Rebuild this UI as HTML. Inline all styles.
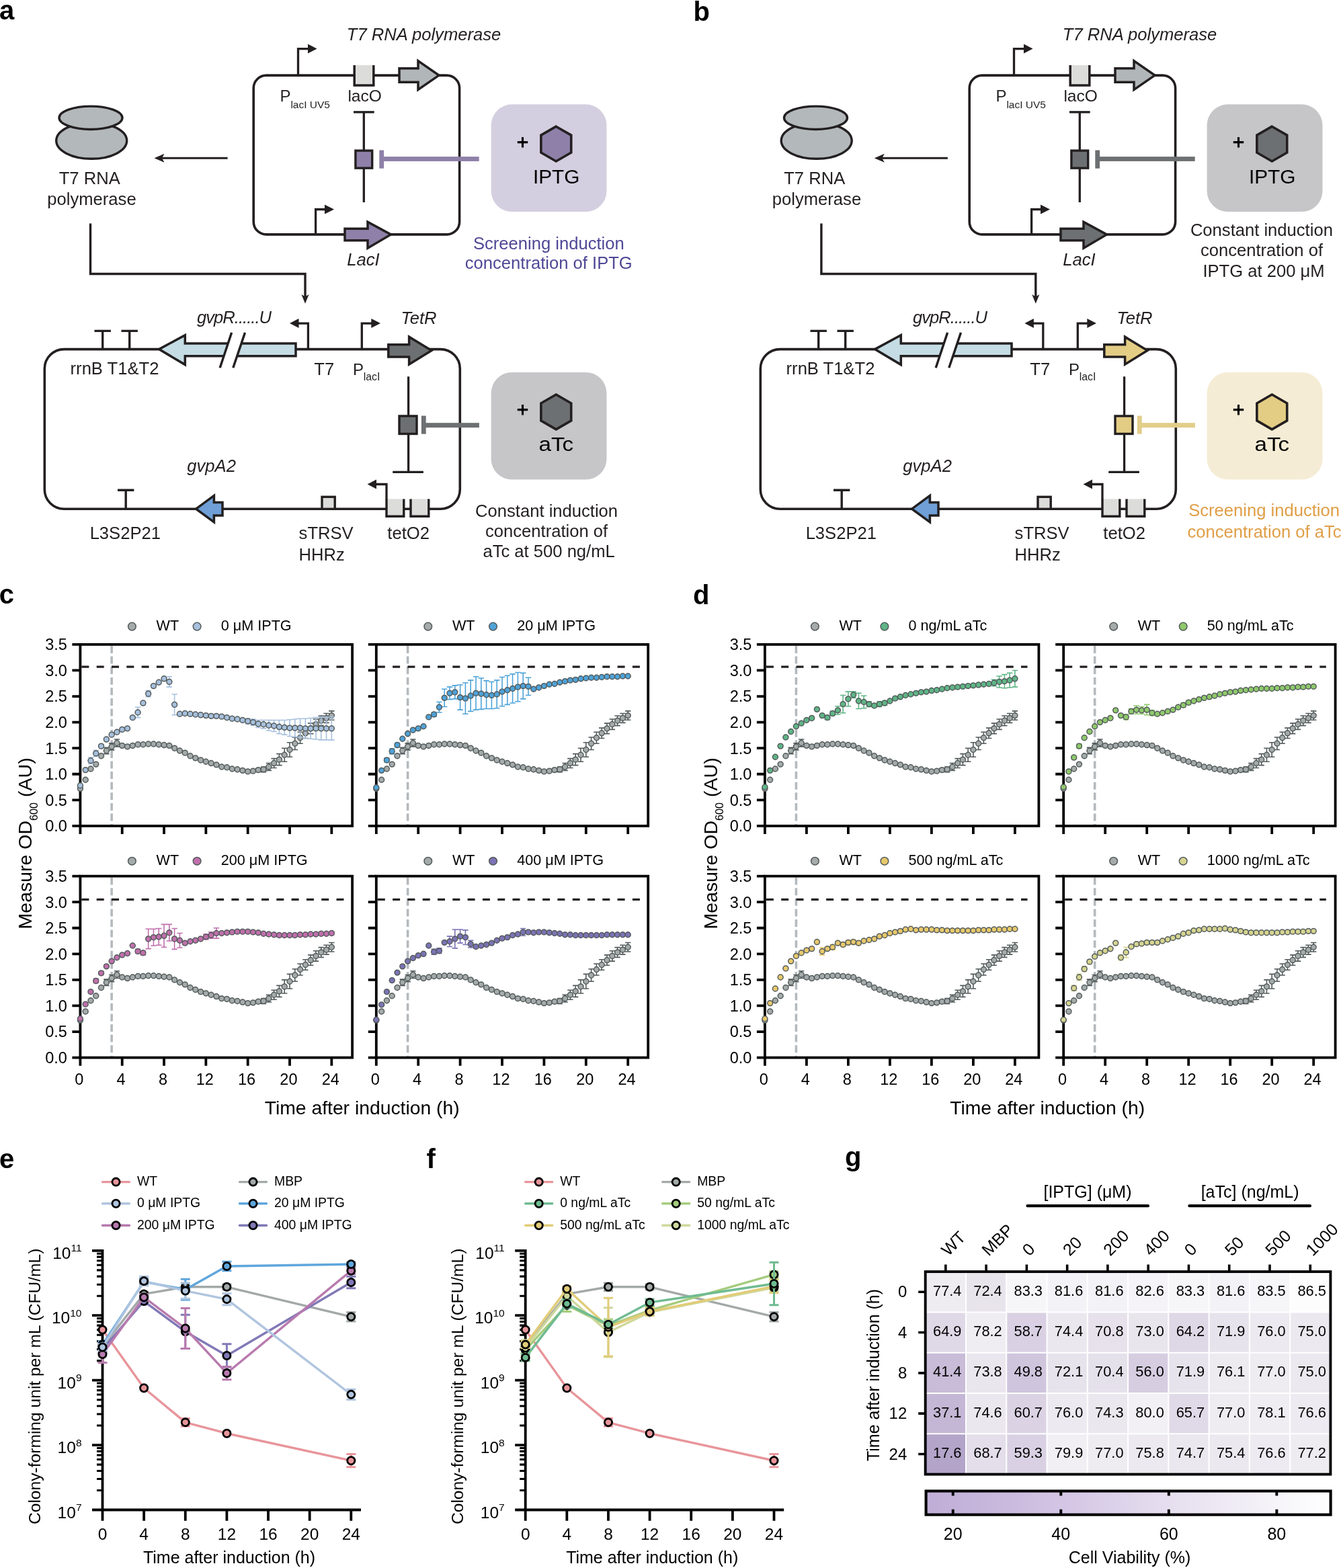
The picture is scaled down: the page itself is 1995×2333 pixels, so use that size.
<!DOCTYPE html>
<html><head><meta charset="utf-8"><title>Figure</title>
<style>html,body{margin:0;padding:0;background:#fff;}svg{display:block;}</style>
</head><body>
<svg width="1995" height="2333" viewBox="0 0 1995 2333" font-family="'Liberation Sans', Arial, Helvetica, sans-serif">
<rect width="1995" height="2333" fill="#ffffff"/>
<g transform="translate(0,0)">
<text x="630.5" y="60" font-size="25.6" text-anchor="middle" fill="#231f20" font-style="italic">T7 RNA polymerase</text>
<rect x="377.2" y="112.1" width="306.4" height="236.8" rx="19" ry="19" fill="none" stroke="#231f20" stroke-width="3.6"/>
<path d="M443.5,112 V72.6 H460" fill="none" stroke="#231f20" stroke-width="3.3"/><polygon points="458,65.6 471.5,72.6 458,79.6" fill="#231f20"/>
<rect x="527.2" y="97" width="28.6" height="30" fill="#dcdcda"/>
<path d="M527.2,97 V127 H555.8 V97" fill="none" stroke="#231f20" stroke-width="3.5"/>
<polygon points="594,101.8 622,101.8 622,90.5 653,112.1 622,133.5 622,122.3 594,122.3" fill="#b1b6b9" stroke="#231f20" stroke-width="3.5" stroke-linejoin="miter" stroke-miterlimit="10"/>
<text x="416.5" y="151.3" font-size="24" text-anchor="start" fill="#231f20">P</text>
<text x="432.4" y="161.2" font-size="15.5" text-anchor="start" fill="#231f20">lacI UV5</text>
<text x="542.6" y="151.3" font-size="24.5" text-anchor="middle" fill="#231f20">lacO</text>
<line x1="526" y1="166.8" x2="556.7" y2="166.8" stroke="#231f20" stroke-width="3.3"/>
<line x1="541.3" y1="166.8" x2="541.3" y2="301" stroke="#231f20" stroke-width="3.3"/>
<rect x="528.9" y="224.1" width="24.8" height="26" fill="#8e80a8" stroke="#231f20" stroke-width="3.4"/>
<rect x="564.3" y="223.5" width="6.8" height="27.1" fill="#8e80a8"/>
<rect x="570" y="233.1" width="142.7" height="6.8" fill="#8e80a8"/>
<path d="M469.6,349 V311.5 H485" fill="none" stroke="#231f20" stroke-width="3.3"/><polygon points="483,304.5 497,311.5 483,318.5" fill="#231f20"/>
<polygon points="513,340.3 547,340.3 547,330.2 581.5,348.9 547,369.2 547,357.8 513,357.8" fill="#8e80a8" stroke="#231f20" stroke-width="3.5" stroke-linejoin="miter" stroke-miterlimit="10"/>
<text x="540.5" y="395" font-size="25.6" text-anchor="middle" fill="#231f20" font-style="italic">LacI</text>
<rect x="730.6" y="155.3" width="171.9" height="159.8" rx="31" ry="31" fill="#d4cfe0"/>
<path d="M769.8,211.6 H785.2 M777.5,204 V219.4" stroke="#000" stroke-width="3.1" fill="none"/>
<polygon points="827.3,188.2 849.73,201.15 849.73,227.05 827.3,240 804.87,227.05 804.87,201.15" fill="#8e80a8" stroke="#231f20" stroke-width="3.6" stroke-linejoin="miter"/>
<text x="827.7" y="272.6" font-size="29.8" text-anchor="middle" fill="#000">IPTG</text>
<g transform="translate(0,0)">
<ellipse cx="136.2" cy="209.3" rx="52.5" ry="27" fill="#b3b8bb" stroke="#231f20" stroke-width="3.4"/>
<ellipse cx="135" cy="175.3" rx="47" ry="17.2" fill="#b3b8bb" stroke="#231f20" stroke-width="3.4"/>
<text x="133.2" y="274.2" font-size="25.6" text-anchor="middle" fill="#231f20">T7 RNA</text>
<text x="136.5" y="304.5" font-size="25.6" text-anchor="middle" fill="#231f20">polymerase</text>
</g>
<line x1="240" y1="235.3" x2="338.6" y2="235.3" stroke="#231f20" stroke-width="3"/>
<polygon points="229.5,235.3 244.5,228.8 241,235.3 244.5,241.8" fill="#231f20"/>
<path d="M134.5,332.5 V407.5 H454 V442" fill="none" stroke="#231f20" stroke-width="3.4"/>
<polygon points="448.4,438 454,451.8 459.6,438 454,441.5" fill="#231f20"/>
<rect x="66.3" y="519.6" width="618" height="237.6" rx="29" ry="29" fill="none" stroke="#231f20" stroke-width="3.6"/>
<path d="M152.7,519.6 V492.4 M140.5,492.4 H164.9" fill="none" stroke="#231f20" stroke-width="3.4"/>
<path d="M192.7,519.6 V492.4 M180.5,492.4 H204.9" fill="none" stroke="#231f20" stroke-width="3.4"/>
<polygon points="440,511 275.3,511 275.3,498.7 236.6,519.6 275.3,542.6 275.3,529.8 440,529.8" fill="#c5dce4" stroke="#231f20" stroke-width="3.5" stroke-linejoin="miter" stroke-miterlimit="10"/>
<polygon points="344.6,494.9 364.5,494.9 346.8,547.2 327.2,547.2" fill="#ffffff"/>
<path d="M344.6,494.9 L327.2,547.2 M364.5,494.9 L346.8,547.2" stroke="#231f20" stroke-width="3.4" fill="none"/>
<text x="348.5" y="481.3" font-size="25.6" text-anchor="middle" fill="#231f20" font-style="italic" textLength="111" lengthAdjust="spacing">gvpR......U</text>
<path d="M458.4,519.6 V481.1 H442.5" fill="none" stroke="#231f20" stroke-width="3.3"/><polygon points="444.5,474.1 431,481.1 444.5,488.1" fill="#231f20"/>
<path d="M538.3,519.6 V481.1 H554.3" fill="none" stroke="#231f20" stroke-width="3.3"/><polygon points="552.3,474.1 566,481.1 552.3,488.1" fill="#231f20"/>
<polygon points="577.8,512.8 608.6,512.8 608.6,501.2 642,521.6 608.6,542.2 608.6,531.1 577.8,531.1" fill="#6d7072" stroke="#231f20" stroke-width="3.5" stroke-linejoin="miter" stroke-miterlimit="10"/>
<text x="623" y="481.5" font-size="25.6" text-anchor="middle" fill="#231f20" font-style="italic">TetR</text>
<text x="170.5" y="557.4" font-size="25.6" text-anchor="middle" fill="#231f20">rrnB T1&amp;T2</text>
<text x="482.2" y="557.7" font-size="25.6" text-anchor="middle" fill="#231f20">T7</text>
<text x="525" y="557.7" font-size="24" text-anchor="start" fill="#231f20">P</text>
<text x="540.8" y="565.8" font-size="15.8" text-anchor="start" fill="#231f20">lacI</text>
<line x1="607.6" y1="560.2" x2="607.6" y2="702.4" stroke="#231f20" stroke-width="3.3"/>
<line x1="584.2" y1="702.4" x2="629.9" y2="702.4" stroke="#231f20" stroke-width="3.3"/>
<rect x="594" y="619" width="26" height="26.5" fill="#6d7072" stroke="#231f20" stroke-width="3.4"/>
<rect x="626.9" y="618.6" width="6.8" height="27.1" fill="#6d7072"/>
<rect x="633" y="629.2" width="79.9" height="7" fill="#6d7072"/>
<rect x="730.6" y="554" width="171.9" height="159.6" rx="31" ry="31" fill="#c6c6c8"/>
<path d="M769.8,609.6 H785.2 M777.5,602 V617.4" stroke="#000" stroke-width="3.1" fill="none"/>
<polygon points="827.3,587 849.73,599.95 849.73,625.85 827.3,638.8 804.87,625.85 804.87,599.95" fill="#6d7072" stroke="#231f20" stroke-width="3.6" stroke-linejoin="miter"/>
<text x="827.4" y="670.6" font-size="29.5" text-anchor="middle" fill="#000" textLength="51.6" lengthAdjust="spacingAndGlyphs">aTc</text>
<path d="M187.2,757.2 V729.3 M175,729.3 H199.4" fill="none" stroke="#231f20" stroke-width="3.4"/>
<polygon points="331,747.6 318.4,747.6 318.4,737.4 291.6,757.2 318.4,776.8 318.4,767 331,767" fill="#6f9fd6" stroke="#231f20" stroke-width="3.5" stroke-linejoin="miter" stroke-miterlimit="10"/>
<text x="314.6" y="701.8" font-size="25.6" text-anchor="middle" fill="#231f20" font-style="italic">gvpA2</text>
<rect x="479" y="739.3" width="19.2" height="18" fill="#dcdcda" stroke="#231f20" stroke-width="3.4"/>
<rect x="575" y="742.5" width="25.8" height="25.8" fill="#dcdcda"/>
<rect x="611" y="742.5" width="26.8" height="25.8" fill="#dcdcda"/>
<path d="M575,742.5 V768.3 H600.8 V742.5 M611,742.5 V768.3 H637.8 V742.5" fill="none" stroke="#231f20" stroke-width="3.4"/>
<path d="M575,743 V720.5 H558" fill="none" stroke="#231f20" stroke-width="3.3"/><polygon points="560,713.5 546.6,720.5 560,727.5" fill="#231f20"/>
<text x="186.3" y="802.2" font-size="25.6" text-anchor="middle" fill="#231f20">L3S2P21</text>
<text x="444.6" y="802.3" font-size="25.6" text-anchor="start" fill="#231f20">sTRSV</text>
<text x="444.6" y="833.6" font-size="25.6" text-anchor="start" fill="#231f20">HHRz</text>
<text x="607.6" y="802.3" font-size="25.6" text-anchor="middle" fill="#231f20">tetO2</text>
<text x="816.3" y="370.7" font-size="25.6" text-anchor="middle" fill="#4f4896">Screening induction</text>
<text x="816.3" y="400.4" font-size="25.6" text-anchor="middle" fill="#4f4896">concentration of IPTG</text>
<text x="813.1" y="768.6" font-size="25.6" text-anchor="middle" fill="#231f20">Constant induction</text>
<text x="813.1" y="798.6" font-size="25.6" text-anchor="middle" fill="#231f20">concentration of</text>
<text x="816.6" y="828.6" font-size="25.6" text-anchor="middle" fill="#231f20">aTc at 500 ng/mL</text>
</g>
<g transform="translate(1065,0)">
<text x="630.5" y="60" font-size="25.6" text-anchor="middle" fill="#231f20" font-style="italic">T7 RNA polymerase</text>
<rect x="377.2" y="112.1" width="306.4" height="236.8" rx="19" ry="19" fill="none" stroke="#231f20" stroke-width="3.6"/>
<path d="M443.5,112 V72.6 H460" fill="none" stroke="#231f20" stroke-width="3.3"/><polygon points="458,65.6 471.5,72.6 458,79.6" fill="#231f20"/>
<rect x="527.2" y="97" width="28.6" height="30" fill="#dcdcda"/>
<path d="M527.2,97 V127 H555.8 V97" fill="none" stroke="#231f20" stroke-width="3.5"/>
<polygon points="594,101.8 622,101.8 622,90.5 653,112.1 622,133.5 622,122.3 594,122.3" fill="#b1b6b9" stroke="#231f20" stroke-width="3.5" stroke-linejoin="miter" stroke-miterlimit="10"/>
<text x="416.5" y="151.3" font-size="24" text-anchor="start" fill="#231f20">P</text>
<text x="432.4" y="161.2" font-size="15.5" text-anchor="start" fill="#231f20">lacI UV5</text>
<text x="542.6" y="151.3" font-size="24.5" text-anchor="middle" fill="#231f20">lacO</text>
<line x1="526" y1="166.8" x2="556.7" y2="166.8" stroke="#231f20" stroke-width="3.3"/>
<line x1="541.3" y1="166.8" x2="541.3" y2="301" stroke="#231f20" stroke-width="3.3"/>
<rect x="528.9" y="224.1" width="24.8" height="26" fill="#6d7072" stroke="#231f20" stroke-width="3.4"/>
<rect x="564.3" y="223.5" width="6.8" height="27.1" fill="#6d7072"/>
<rect x="570" y="233.1" width="142.7" height="6.8" fill="#6d7072"/>
<path d="M469.6,349 V311.5 H485" fill="none" stroke="#231f20" stroke-width="3.3"/><polygon points="483,304.5 497,311.5 483,318.5" fill="#231f20"/>
<polygon points="513,340.3 547,340.3 547,330.2 581.5,348.9 547,369.2 547,357.8 513,357.8" fill="#6d7072" stroke="#231f20" stroke-width="3.5" stroke-linejoin="miter" stroke-miterlimit="10"/>
<text x="540.5" y="395" font-size="25.6" text-anchor="middle" fill="#231f20" font-style="italic">LacI</text>
<rect x="730.6" y="155.3" width="171.9" height="159.8" rx="31" ry="31" fill="#c6c6c8"/>
<path d="M769.8,211.6 H785.2 M777.5,204 V219.4" stroke="#000" stroke-width="3.1" fill="none"/>
<polygon points="827.3,188.2 849.73,201.15 849.73,227.05 827.3,240 804.87,227.05 804.87,201.15" fill="#6d7072" stroke="#231f20" stroke-width="3.6" stroke-linejoin="miter"/>
<text x="827.7" y="272.6" font-size="29.8" text-anchor="middle" fill="#000">IPTG</text>
<g transform="translate(13.5,0)">
<ellipse cx="136.2" cy="209.3" rx="52.5" ry="27" fill="#b3b8bb" stroke="#231f20" stroke-width="3.4"/>
<ellipse cx="135" cy="175.3" rx="47" ry="17.2" fill="#b3b8bb" stroke="#231f20" stroke-width="3.4"/>
<text x="133.2" y="274.2" font-size="25.6" text-anchor="middle" fill="#231f20">T7 RNA</text>
<text x="136.5" y="304.5" font-size="25.6" text-anchor="middle" fill="#231f20">polymerase</text>
</g>
<line x1="246.3" y1="235.3" x2="344.9" y2="235.3" stroke="#231f20" stroke-width="3"/>
<polygon points="235.8,235.3 250.8,228.8 247.3,235.3 250.8,241.8" fill="#231f20"/>
<path d="M156.9,332.5 V407.5 H475.8 V442" fill="none" stroke="#231f20" stroke-width="3.4"/>
<polygon points="470.2,438 475.8,451.8 481.4,438 475.8,441.5" fill="#231f20"/>
<rect x="66.3" y="519.6" width="618" height="237.6" rx="29" ry="29" fill="none" stroke="#231f20" stroke-width="3.6"/>
<path d="M152.7,519.6 V492.4 M140.5,492.4 H164.9" fill="none" stroke="#231f20" stroke-width="3.4"/>
<path d="M192.7,519.6 V492.4 M180.5,492.4 H204.9" fill="none" stroke="#231f20" stroke-width="3.4"/>
<polygon points="440,511 275.3,511 275.3,498.7 236.6,519.6 275.3,542.6 275.3,529.8 440,529.8" fill="#c5dce4" stroke="#231f20" stroke-width="3.5" stroke-linejoin="miter" stroke-miterlimit="10"/>
<polygon points="344.6,494.9 364.5,494.9 346.8,547.2 327.2,547.2" fill="#ffffff"/>
<path d="M344.6,494.9 L327.2,547.2 M364.5,494.9 L346.8,547.2" stroke="#231f20" stroke-width="3.4" fill="none"/>
<text x="348.5" y="481.3" font-size="25.6" text-anchor="middle" fill="#231f20" font-style="italic" textLength="111" lengthAdjust="spacing">gvpR......U</text>
<path d="M486.8,519.6 V481.1 H470.9" fill="none" stroke="#231f20" stroke-width="3.3"/><polygon points="472.9,474.1 459.4,481.1 472.9,488.1" fill="#231f20"/>
<path d="M538.3,519.6 V481.1 H554.3" fill="none" stroke="#231f20" stroke-width="3.3"/><polygon points="552.3,474.1 566,481.1 552.3,488.1" fill="#231f20"/>
<polygon points="577.8,512.8 608.6,512.8 608.6,501.2 642,521.6 608.6,542.2 608.6,531.1 577.8,531.1" fill="#e3cd85" stroke="#231f20" stroke-width="3.5" stroke-linejoin="miter" stroke-miterlimit="10"/>
<text x="623" y="481.5" font-size="25.6" text-anchor="middle" fill="#231f20" font-style="italic">TetR</text>
<text x="170.5" y="557.4" font-size="25.6" text-anchor="middle" fill="#231f20">rrnB T1&amp;T2</text>
<text x="482.2" y="557.7" font-size="25.6" text-anchor="middle" fill="#231f20">T7</text>
<text x="525" y="557.7" font-size="24" text-anchor="start" fill="#231f20">P</text>
<text x="540.8" y="565.8" font-size="15.8" text-anchor="start" fill="#231f20">lacI</text>
<line x1="607.6" y1="560.2" x2="607.6" y2="702.4" stroke="#231f20" stroke-width="3.3"/>
<line x1="584.2" y1="702.4" x2="629.9" y2="702.4" stroke="#231f20" stroke-width="3.3"/>
<rect x="594" y="619" width="26" height="26.5" fill="#e3cd85" stroke="#231f20" stroke-width="3.4"/>
<rect x="626.9" y="618.6" width="6.8" height="27.1" fill="#e2cd8a"/>
<rect x="633" y="629.2" width="79.9" height="7" fill="#e2cd8a"/>
<rect x="730.6" y="554" width="171.9" height="159.6" rx="31" ry="31" fill="#f5ecd5"/>
<path d="M769.8,609.6 H785.2 M777.5,602 V617.4" stroke="#000" stroke-width="3.1" fill="none"/>
<polygon points="827.3,587 849.73,599.95 849.73,625.85 827.3,638.8 804.87,625.85 804.87,599.95" fill="#e3cd85" stroke="#231f20" stroke-width="3.6" stroke-linejoin="miter"/>
<text x="827.4" y="670.6" font-size="29.5" text-anchor="middle" fill="#000" textLength="51.6" lengthAdjust="spacingAndGlyphs">aTc</text>
<path d="M187.2,757.2 V729.3 M175,729.3 H199.4" fill="none" stroke="#231f20" stroke-width="3.4"/>
<polygon points="331,747.6 318.4,747.6 318.4,737.4 291.6,757.2 318.4,776.8 318.4,767 331,767" fill="#6f9fd6" stroke="#231f20" stroke-width="3.5" stroke-linejoin="miter" stroke-miterlimit="10"/>
<text x="314.6" y="701.8" font-size="25.6" text-anchor="middle" fill="#231f20" font-style="italic">gvpA2</text>
<rect x="479" y="739.3" width="19.2" height="18" fill="#dcdcda" stroke="#231f20" stroke-width="3.4"/>
<rect x="575" y="742.5" width="25.8" height="25.8" fill="#dcdcda"/>
<rect x="611" y="742.5" width="26.8" height="25.8" fill="#dcdcda"/>
<path d="M575,742.5 V768.3 H600.8 V742.5 M611,742.5 V768.3 H637.8 V742.5" fill="none" stroke="#231f20" stroke-width="3.4"/>
<path d="M575,743 V720.5 H558" fill="none" stroke="#231f20" stroke-width="3.3"/><polygon points="560,713.5 546.6,720.5 560,727.5" fill="#231f20"/>
<text x="186.3" y="802.2" font-size="25.6" text-anchor="middle" fill="#231f20">L3S2P21</text>
<text x="444.6" y="802.3" font-size="25.6" text-anchor="start" fill="#231f20">sTRSV</text>
<text x="444.6" y="833.6" font-size="25.6" text-anchor="start" fill="#231f20">HHRz</text>
<text x="607.6" y="802.3" font-size="25.6" text-anchor="middle" fill="#231f20">tetO2</text>
<text x="811.9" y="350.9" font-size="25.6" text-anchor="middle" fill="#231f20">Constant induction</text>
<text x="812" y="380.8" font-size="25.6" text-anchor="middle" fill="#231f20">concentration of</text>
<text x="815" y="411.6" font-size="25.6" text-anchor="middle" fill="#231f20">IPTG at 200 μM</text>
<text x="815.6" y="768.4" font-size="25.6" text-anchor="middle" fill="#e09f48">Screening induction</text>
<text x="816" y="799.5" font-size="25.6" text-anchor="middle" fill="#e09f48">concentration of aTc</text>
</g>
<line x1="166.14" y1="960.9" x2="166.14" y2="1228.9" stroke="#b4b9bd" stroke-width="3.6" stroke-dasharray="11,4.6"/>
<line x1="121.4" y1="992.07" x2="512.02" y2="992.07" stroke="#231f20" stroke-width="3.2" stroke-dasharray="11,11.3"/>
<rect x="119.4" y="958.9" width="404.7" height="270" fill="none" stroke="#000000" stroke-width="3.8"/>
<g fill="#a5aaaa" stroke="#535b5b" stroke-width="1.5"><path d="M158.35,1112.41 V1121.67 M154.15,1112.41 H162.55 M154.15,1121.67 H162.55" stroke="#535b5b" stroke-width="1.6" fill="none"/><path d="M166.14,1105.86 V1115.89 M161.94,1105.86 H170.34 M161.94,1115.89 H170.34" stroke="#535b5b" stroke-width="1.6" fill="none"/><path d="M173.93,1100.07 V1110.87 M169.73,1100.07 H178.13 M169.73,1110.87 H178.13" stroke="#535b5b" stroke-width="1.6" fill="none"/><path d="M384.26,1143.27 V1147.9 M380.06,1143.27 H388.46 M380.06,1147.9 H388.46" stroke="#535b5b" stroke-width="1.6" fill="none"/><path d="M392.05,1140.96 V1148.67 M387.85,1140.96 H396.25 M387.85,1148.67 H396.25" stroke="#535b5b" stroke-width="1.6" fill="none"/><path d="M399.84,1135.56 V1146.36 M395.64,1135.56 H404.04 M395.64,1146.36 H404.04" stroke="#535b5b" stroke-width="1.6" fill="none"/><path d="M407.63,1128.61 V1142.5 M403.43,1128.61 H411.83 M403.43,1142.5 H411.83" stroke="#535b5b" stroke-width="1.6" fill="none"/><path d="M415.42,1121.67 V1138.64 M411.22,1121.67 H419.62 M411.22,1138.64 H419.62" stroke="#535b5b" stroke-width="1.6" fill="none"/><path d="M423.21,1113.19 V1133.24 M419.01,1113.19 H427.41 M419.01,1133.24 H427.41" stroke="#535b5b" stroke-width="1.6" fill="none"/><path d="M431,1104.7 V1126.3 M426.8,1104.7 H435.2 M426.8,1126.3 H435.2" stroke="#535b5b" stroke-width="1.6" fill="none"/><path d="M438.79,1096.99 V1115.5 M434.59,1096.99 H442.99 M434.59,1115.5 H442.99" stroke="#535b5b" stroke-width="1.6" fill="none"/><path d="M446.58,1089.27 V1106.24 M442.38,1089.27 H450.78 M442.38,1106.24 H450.78" stroke="#535b5b" stroke-width="1.6" fill="none"/><path d="M454.37,1083.1 V1098.53 M450.17,1083.1 H458.57 M450.17,1098.53 H458.57" stroke="#535b5b" stroke-width="1.6" fill="none"/><path d="M462.16,1076.16 V1091.59 M457.96,1076.16 H466.36 M457.96,1091.59 H466.36" stroke="#535b5b" stroke-width="1.6" fill="none"/><path d="M469.95,1069.99 V1085.41 M465.75,1069.99 H474.15 M465.75,1085.41 H474.15" stroke="#535b5b" stroke-width="1.6" fill="none"/><path d="M477.74,1064.97 V1079.63 M473.54,1064.97 H481.94 M473.54,1079.63 H481.94" stroke="#535b5b" stroke-width="1.6" fill="none"/><path d="M485.53,1061.5 V1075.39 M481.33,1061.5 H489.73 M481.33,1075.39 H489.73" stroke="#535b5b" stroke-width="1.6" fill="none"/><path d="M493.32,1057.87 V1071.3 M489.12,1057.87 H497.52 M489.12,1071.3 H497.52" stroke="#535b5b" stroke-width="1.6" fill="none"/><circle cx="119.4" cy="1173.36" r="3.95"/><circle cx="127.19" cy="1160.24" r="3.95"/><circle cx="134.98" cy="1144.04" r="3.95"/><circle cx="142.77" cy="1137.1" r="3.95"/><circle cx="150.56" cy="1124.76" r="3.95"/><circle cx="158.35" cy="1117.04" r="3.95"/><circle cx="166.14" cy="1110.87" r="3.95"/><circle cx="173.93" cy="1105.47" r="3.95"/><circle cx="181.72" cy="1109.33" r="3.95"/><circle cx="189.51" cy="1110.87" r="3.95"/><circle cx="197.3" cy="1109.33" r="3.95"/><circle cx="205.09" cy="1107.79" r="3.95"/><circle cx="212.88" cy="1107.79" r="3.95"/><circle cx="220.67" cy="1107.01" r="3.95"/><circle cx="228.46" cy="1107.01" r="3.95"/><circle cx="236.25" cy="1107.79" r="3.95"/><circle cx="244.04" cy="1108.56" r="3.95"/><circle cx="251.83" cy="1109.33" r="3.95"/><circle cx="259.62" cy="1113.19" r="3.95"/><circle cx="267.41" cy="1117.04" r="3.95"/><circle cx="275.2" cy="1120.13" r="3.95"/><circle cx="282.99" cy="1124.76" r="3.95"/><circle cx="290.78" cy="1127.84" r="3.95"/><circle cx="298.57" cy="1130.93" r="3.95"/><circle cx="306.36" cy="1133.24" r="3.95"/><circle cx="314.15" cy="1135.56" r="3.95"/><circle cx="321.94" cy="1137.87" r="3.95"/><circle cx="329.73" cy="1140.96" r="3.95"/><circle cx="337.52" cy="1141.73" r="3.95"/><circle cx="345.31" cy="1144.04" r="3.95"/><circle cx="353.1" cy="1144.81" r="3.95"/><circle cx="360.89" cy="1146.36" r="3.95"/><circle cx="368.68" cy="1147.9" r="3.95"/><circle cx="376.47" cy="1147.13" r="3.95"/><circle cx="384.26" cy="1145.59" r="3.95"/><circle cx="392.05" cy="1144.81" r="3.95"/><circle cx="399.84" cy="1140.96" r="3.95"/><circle cx="407.63" cy="1135.56" r="3.95"/><circle cx="415.42" cy="1130.16" r="3.95"/><circle cx="423.21" cy="1123.21" r="3.95"/><circle cx="431" cy="1115.5" r="3.95"/><circle cx="438.79" cy="1106.24" r="3.95"/><circle cx="446.58" cy="1097.76" r="3.95"/><circle cx="454.37" cy="1090.81" r="3.95"/><circle cx="462.16" cy="1083.87" r="3.95"/><circle cx="469.95" cy="1077.7" r="3.95"/><circle cx="477.74" cy="1072.3" r="3.95"/><circle cx="485.53" cy="1068.44" r="3.95"/><circle cx="493.32" cy="1064.59" r="3.95"/></g>
<g fill="#a7c0dd" stroke="#535b5b" stroke-width="1.5"><path d="M134.98,1127.07 V1136.33 M130.78,1127.07 H139.18 M130.78,1136.33 H139.18" stroke="#a7c0dd" stroke-width="1.6" fill="none"/><path d="M142.77,1116.27 V1125.53 M138.57,1116.27 H146.97 M138.57,1125.53 H146.97" stroke="#a7c0dd" stroke-width="1.6" fill="none"/><path d="M150.56,1107.79 V1112.41 M146.36,1107.79 H154.76 M146.36,1112.41 H154.76" stroke="#a7c0dd" stroke-width="1.6" fill="none"/><path d="M158.35,1097.76 V1102.39 M154.15,1097.76 H162.55 M154.15,1102.39 H162.55" stroke="#a7c0dd" stroke-width="1.6" fill="none"/><path d="M205.09,1052.24 V1067.67 M200.89,1052.24 H209.29 M200.89,1067.67 H209.29" stroke="#a7c0dd" stroke-width="1.6" fill="none"/><path d="M220.67,1027.56 V1036.81 M216.47,1027.56 H224.87 M216.47,1036.81 H224.87" stroke="#a7c0dd" stroke-width="1.6" fill="none"/><path d="M251.83,1006.73 V1022.16 M247.63,1006.73 H256.03 M247.63,1022.16 H256.03" stroke="#a7c0dd" stroke-width="1.6" fill="none"/><path d="M259.62,1032.96 V1063.81 M255.42,1032.96 H263.82 M255.42,1063.81 H263.82" stroke="#a7c0dd" stroke-width="1.6" fill="none"/><path d="M360.89,1069.21 V1073.84 M356.69,1069.21 H365.09 M356.69,1073.84 H365.09" stroke="#a7c0dd" stroke-width="1.6" fill="none"/><path d="M368.68,1069.21 V1076.93 M364.48,1069.21 H372.88 M364.48,1076.93 H372.88" stroke="#a7c0dd" stroke-width="1.6" fill="none"/><path d="M376.47,1069.99 V1079.24 M372.27,1069.99 H380.67 M372.27,1079.24 H380.67" stroke="#a7c0dd" stroke-width="1.6" fill="none"/><path d="M384.26,1071.53 V1082.33 M380.06,1071.53 H388.46 M380.06,1082.33 H388.46" stroke="#a7c0dd" stroke-width="1.6" fill="none"/><path d="M392.05,1071.53 V1083.87 M387.85,1071.53 H396.25 M387.85,1083.87 H396.25" stroke="#a7c0dd" stroke-width="1.6" fill="none"/><path d="M399.84,1071.53 V1086.96 M395.64,1071.53 H404.04 M395.64,1086.96 H404.04" stroke="#a7c0dd" stroke-width="1.6" fill="none"/><path d="M407.63,1071.53 V1088.5 M403.43,1071.53 H411.83 M403.43,1088.5 H411.83" stroke="#a7c0dd" stroke-width="1.6" fill="none"/><path d="M415.42,1071.53 V1091.59 M411.22,1071.53 H419.62 M411.22,1091.59 H419.62" stroke="#a7c0dd" stroke-width="1.6" fill="none"/><path d="M423.21,1071.53 V1093.13 M419.01,1071.53 H427.41 M419.01,1093.13 H427.41" stroke="#a7c0dd" stroke-width="1.6" fill="none"/><path d="M431,1070.76 V1095.44 M426.8,1070.76 H435.2 M426.8,1095.44 H435.2" stroke="#a7c0dd" stroke-width="1.6" fill="none"/><path d="M438.79,1069.99 V1096.21 M434.59,1069.99 H442.99 M434.59,1096.21 H442.99" stroke="#a7c0dd" stroke-width="1.6" fill="none"/><path d="M446.58,1069.21 V1096.99 M442.38,1069.21 H450.78 M442.38,1096.99 H450.78" stroke="#a7c0dd" stroke-width="1.6" fill="none"/><path d="M454.37,1069.21 V1098.53 M450.17,1069.21 H458.57 M450.17,1098.53 H458.57" stroke="#a7c0dd" stroke-width="1.6" fill="none"/><path d="M462.16,1068.44 V1099.3 M457.96,1068.44 H466.36 M457.96,1099.3 H466.36" stroke="#a7c0dd" stroke-width="1.6" fill="none"/><path d="M469.95,1067.67 V1100.07 M465.75,1067.67 H474.15 M465.75,1100.07 H474.15" stroke="#a7c0dd" stroke-width="1.6" fill="none"/><path d="M477.74,1066.9 V1100.84 M473.54,1066.9 H481.94 M473.54,1100.84 H481.94" stroke="#a7c0dd" stroke-width="1.6" fill="none"/><path d="M485.53,1066.9 V1100.84 M481.33,1066.9 H489.73 M481.33,1100.84 H489.73" stroke="#a7c0dd" stroke-width="1.6" fill="none"/><path d="M493.32,1066.9 V1100.84 M489.12,1066.9 H497.52 M489.12,1100.84 H497.52" stroke="#a7c0dd" stroke-width="1.6" fill="none"/><circle cx="119.4" cy="1168.73" r="3.95"/><circle cx="127.19" cy="1145.59" r="3.95"/><circle cx="134.98" cy="1131.7" r="3.95"/><circle cx="142.77" cy="1120.9" r="3.95"/><circle cx="150.56" cy="1110.1" r="3.95"/><circle cx="158.35" cy="1100.07" r="3.95"/><circle cx="166.14" cy="1093.13" r="3.95"/><circle cx="173.93" cy="1089.27" r="3.95"/><circle cx="181.72" cy="1085.41" r="3.95"/><circle cx="189.51" cy="1083.87" r="3.95"/><circle cx="197.3" cy="1067.67" r="3.95"/><circle cx="205.09" cy="1059.96" r="3.95"/><circle cx="212.88" cy="1046.07" r="3.95"/><circle cx="220.67" cy="1032.19" r="3.95"/><circle cx="228.46" cy="1020.61" r="3.95"/><circle cx="236.25" cy="1015.21" r="3.95"/><circle cx="244.04" cy="1009.81" r="3.95"/><circle cx="251.83" cy="1014.44" r="3.95"/><circle cx="259.62" cy="1048.39" r="3.95"/><circle cx="267.41" cy="1062.27" r="3.95"/><circle cx="275.2" cy="1061.5" r="3.95"/><circle cx="282.99" cy="1062.27" r="3.95"/><circle cx="290.78" cy="1063.04" r="3.95"/><circle cx="298.57" cy="1063.81" r="3.95"/><circle cx="306.36" cy="1064.59" r="3.95"/><circle cx="314.15" cy="1065.36" r="3.95"/><circle cx="321.94" cy="1065.36" r="3.95"/><circle cx="329.73" cy="1066.13" r="3.95"/><circle cx="337.52" cy="1067.67" r="3.95"/><circle cx="345.31" cy="1069.21" r="3.95"/><circle cx="353.1" cy="1069.99" r="3.95"/><circle cx="360.89" cy="1071.53" r="3.95"/><circle cx="368.68" cy="1073.07" r="3.95"/><circle cx="376.47" cy="1074.61" r="3.95"/><circle cx="384.26" cy="1076.93" r="3.95"/><circle cx="392.05" cy="1077.7" r="3.95"/><circle cx="399.84" cy="1079.24" r="3.95"/><circle cx="407.63" cy="1080.01" r="3.95"/><circle cx="415.42" cy="1081.56" r="3.95"/><circle cx="423.21" cy="1082.33" r="3.95"/><circle cx="431" cy="1083.1" r="3.95"/><circle cx="438.79" cy="1083.1" r="3.95"/><circle cx="446.58" cy="1083.1" r="3.95"/><circle cx="454.37" cy="1083.87" r="3.95"/><circle cx="462.16" cy="1083.87" r="3.95"/><circle cx="469.95" cy="1083.87" r="3.95"/><circle cx="477.74" cy="1083.87" r="3.95"/><circle cx="485.53" cy="1083.87" r="3.95"/><circle cx="493.32" cy="1083.87" r="3.95"/></g>
<text x="99.9" y="1237.3" font-size="23.5" text-anchor="end" fill="#000">0.0</text>
<text x="99.9" y="1198.73" font-size="23.5" text-anchor="end" fill="#000">0.5</text>
<text x="99.9" y="1160.16" font-size="23.5" text-anchor="end" fill="#000">1.0</text>
<text x="99.9" y="1121.59" font-size="23.5" text-anchor="end" fill="#000">1.5</text>
<text x="99.9" y="1083.01" font-size="23.5" text-anchor="end" fill="#000">2.0</text>
<text x="99.9" y="1044.44" font-size="23.5" text-anchor="end" fill="#000">2.5</text>
<text x="99.9" y="1005.87" font-size="23.5" text-anchor="end" fill="#000">3.0</text>
<text x="99.9" y="967.3" font-size="23.5" text-anchor="end" fill="#000">3.5</text>
<path d="M107.4,1228.9 H119.4 M107.4,1190.33 H119.4 M107.4,1151.76 H119.4 M107.4,1113.19 H119.4 M107.4,1074.61 H119.4 M107.4,1036.04 H119.4 M107.4,997.47 H119.4 M107.4,958.9 H119.4 M119.4,1228.9 V1241.1 M181.72,1228.9 V1241.1 M244.04,1228.9 V1241.1 M306.36,1228.9 V1241.1 M368.68,1228.9 V1241.1 M431,1228.9 V1241.1 M493.32,1228.9 V1241.1" stroke="#000000" stroke-width="3.8" fill="none"/>
<circle cx="196.4" cy="932.1" r="5.8" fill="#a5aaaa" stroke="#535b5b" stroke-width="1.5"/>
<text x="232.5" y="937.8" font-size="21.6" text-anchor="start" fill="#000">WT</text>
<circle cx="293.1" cy="932.1" r="5.8" fill="#a7c0dd" stroke="#535b5b" stroke-width="1.5"/>
<text x="328.8" y="937.8" font-size="21.6" text-anchor="start" fill="#000">0 μM IPTG</text>
<line x1="606.6" y1="960.9" x2="606.6" y2="1228.9" stroke="#b4b9bd" stroke-width="3.6" stroke-dasharray="11,4.6"/>
<line x1="561.8" y1="992.07" x2="952.92" y2="992.07" stroke="#231f20" stroke-width="3.2" stroke-dasharray="11,11.3"/>
<rect x="559.8" y="958.9" width="404.4" height="270" fill="none" stroke="#000000" stroke-width="3.8"/>
<g fill="#a5aaaa" stroke="#535b5b" stroke-width="1.5"><path d="M598.8,1112.41 V1121.67 M594.6,1112.41 H603 M594.6,1121.67 H603" stroke="#535b5b" stroke-width="1.6" fill="none"/><path d="M606.6,1105.86 V1115.89 M602.4,1105.86 H610.8 M602.4,1115.89 H610.8" stroke="#535b5b" stroke-width="1.6" fill="none"/><path d="M614.4,1100.07 V1110.87 M610.2,1100.07 H618.6 M610.2,1110.87 H618.6" stroke="#535b5b" stroke-width="1.6" fill="none"/><path d="M825,1143.27 V1147.9 M820.8,1143.27 H829.2 M820.8,1147.9 H829.2" stroke="#535b5b" stroke-width="1.6" fill="none"/><path d="M832.8,1140.96 V1148.67 M828.6,1140.96 H837 M828.6,1148.67 H837" stroke="#535b5b" stroke-width="1.6" fill="none"/><path d="M840.6,1135.56 V1146.36 M836.4,1135.56 H844.8 M836.4,1146.36 H844.8" stroke="#535b5b" stroke-width="1.6" fill="none"/><path d="M848.4,1128.61 V1142.5 M844.2,1128.61 H852.6 M844.2,1142.5 H852.6" stroke="#535b5b" stroke-width="1.6" fill="none"/><path d="M856.2,1121.67 V1138.64 M852,1121.67 H860.4 M852,1138.64 H860.4" stroke="#535b5b" stroke-width="1.6" fill="none"/><path d="M864,1113.19 V1133.24 M859.8,1113.19 H868.2 M859.8,1133.24 H868.2" stroke="#535b5b" stroke-width="1.6" fill="none"/><path d="M871.8,1104.7 V1126.3 M867.6,1104.7 H876 M867.6,1126.3 H876" stroke="#535b5b" stroke-width="1.6" fill="none"/><path d="M879.6,1096.99 V1115.5 M875.4,1096.99 H883.8 M875.4,1115.5 H883.8" stroke="#535b5b" stroke-width="1.6" fill="none"/><path d="M887.4,1089.27 V1106.24 M883.2,1089.27 H891.6 M883.2,1106.24 H891.6" stroke="#535b5b" stroke-width="1.6" fill="none"/><path d="M895.2,1083.1 V1098.53 M891,1083.1 H899.4 M891,1098.53 H899.4" stroke="#535b5b" stroke-width="1.6" fill="none"/><path d="M903,1076.16 V1091.59 M898.8,1076.16 H907.2 M898.8,1091.59 H907.2" stroke="#535b5b" stroke-width="1.6" fill="none"/><path d="M910.8,1069.99 V1085.41 M906.6,1069.99 H915 M906.6,1085.41 H915" stroke="#535b5b" stroke-width="1.6" fill="none"/><path d="M918.6,1064.97 V1079.63 M914.4,1064.97 H922.8 M914.4,1079.63 H922.8" stroke="#535b5b" stroke-width="1.6" fill="none"/><path d="M926.4,1061.5 V1075.39 M922.2,1061.5 H930.6 M922.2,1075.39 H930.6" stroke="#535b5b" stroke-width="1.6" fill="none"/><path d="M934.2,1057.87 V1071.3 M930,1057.87 H938.4 M930,1071.3 H938.4" stroke="#535b5b" stroke-width="1.6" fill="none"/><circle cx="559.8" cy="1173.36" r="3.95"/><circle cx="567.6" cy="1160.24" r="3.95"/><circle cx="575.4" cy="1144.04" r="3.95"/><circle cx="583.2" cy="1137.1" r="3.95"/><circle cx="591" cy="1124.76" r="3.95"/><circle cx="598.8" cy="1117.04" r="3.95"/><circle cx="606.6" cy="1110.87" r="3.95"/><circle cx="614.4" cy="1105.47" r="3.95"/><circle cx="622.2" cy="1109.33" r="3.95"/><circle cx="630" cy="1110.87" r="3.95"/><circle cx="637.8" cy="1109.33" r="3.95"/><circle cx="645.6" cy="1107.79" r="3.95"/><circle cx="653.4" cy="1107.79" r="3.95"/><circle cx="661.2" cy="1107.01" r="3.95"/><circle cx="669" cy="1107.01" r="3.95"/><circle cx="676.8" cy="1107.79" r="3.95"/><circle cx="684.6" cy="1108.56" r="3.95"/><circle cx="692.4" cy="1109.33" r="3.95"/><circle cx="700.2" cy="1113.19" r="3.95"/><circle cx="708" cy="1117.04" r="3.95"/><circle cx="715.8" cy="1120.13" r="3.95"/><circle cx="723.6" cy="1124.76" r="3.95"/><circle cx="731.4" cy="1127.84" r="3.95"/><circle cx="739.2" cy="1130.93" r="3.95"/><circle cx="747" cy="1133.24" r="3.95"/><circle cx="754.8" cy="1135.56" r="3.95"/><circle cx="762.6" cy="1137.87" r="3.95"/><circle cx="770.4" cy="1140.96" r="3.95"/><circle cx="778.2" cy="1141.73" r="3.95"/><circle cx="786" cy="1144.04" r="3.95"/><circle cx="793.8" cy="1144.81" r="3.95"/><circle cx="801.6" cy="1146.36" r="3.95"/><circle cx="809.4" cy="1147.9" r="3.95"/><circle cx="817.2" cy="1147.13" r="3.95"/><circle cx="825" cy="1145.59" r="3.95"/><circle cx="832.8" cy="1144.81" r="3.95"/><circle cx="840.6" cy="1140.96" r="3.95"/><circle cx="848.4" cy="1135.56" r="3.95"/><circle cx="856.2" cy="1130.16" r="3.95"/><circle cx="864" cy="1123.21" r="3.95"/><circle cx="871.8" cy="1115.5" r="3.95"/><circle cx="879.6" cy="1106.24" r="3.95"/><circle cx="887.4" cy="1097.76" r="3.95"/><circle cx="895.2" cy="1090.81" r="3.95"/><circle cx="903" cy="1083.87" r="3.95"/><circle cx="910.8" cy="1077.7" r="3.95"/><circle cx="918.6" cy="1072.3" r="3.95"/><circle cx="926.4" cy="1068.44" r="3.95"/><circle cx="934.2" cy="1064.59" r="3.95"/></g>
<g fill="#4fa3d9" stroke="#535b5b" stroke-width="1.5"><path d="M575.4,1127.84 V1134.01 M571.2,1127.84 H579.6 M571.2,1134.01 H579.6" stroke="#4fa3d9" stroke-width="1.6" fill="none"/><path d="M583.2,1113.96 V1121.67 M579,1113.96 H587.4 M579,1121.67 H587.4" stroke="#4fa3d9" stroke-width="1.6" fill="none"/><path d="M591,1105.47 V1111.64 M586.8,1105.47 H595.2 M586.8,1111.64 H595.2" stroke="#4fa3d9" stroke-width="1.6" fill="none"/><path d="M645.6,1059.96 V1066.13 M641.4,1059.96 H649.8 M641.4,1066.13 H649.8" stroke="#4fa3d9" stroke-width="1.6" fill="none"/><path d="M653.4,1044.53 V1059.96 M649.2,1044.53 H657.6 M649.2,1059.96 H657.6" stroke="#4fa3d9" stroke-width="1.6" fill="none"/><path d="M661.2,1025.24 V1051.47 M657,1025.24 H665.4 M657,1051.47 H665.4" stroke="#4fa3d9" stroke-width="1.6" fill="none"/><path d="M669,1022.16 V1040.67 M664.8,1022.16 H673.2 M664.8,1040.67 H673.2" stroke="#4fa3d9" stroke-width="1.6" fill="none"/><path d="M676.8,1019.84 V1039.9 M672.6,1019.84 H681 M672.6,1039.9 H681" stroke="#4fa3d9" stroke-width="1.6" fill="none"/><path d="M684.6,1019.07 V1056.1 M680.4,1019.07 H688.8 M680.4,1056.1 H688.8" stroke="#4fa3d9" stroke-width="1.6" fill="none"/><path d="M692.4,1015.99 V1062.27 M688.2,1015.99 H696.6 M688.2,1062.27 H696.6" stroke="#4fa3d9" stroke-width="1.6" fill="none"/><path d="M700.2,1012.13 V1058.41 M696,1012.13 H704.4 M696,1058.41 H704.4" stroke="#4fa3d9" stroke-width="1.6" fill="none"/><path d="M708,1006.73 V1056.1 M703.8,1006.73 H712.2 M703.8,1056.1 H712.2" stroke="#4fa3d9" stroke-width="1.6" fill="none"/><path d="M715.8,1009.04 V1055.33 M711.6,1009.04 H720 M711.6,1055.33 H720" stroke="#4fa3d9" stroke-width="1.6" fill="none"/><path d="M723.6,1012.9 V1054.56 M719.4,1012.9 H727.8 M719.4,1054.56 H727.8" stroke="#4fa3d9" stroke-width="1.6" fill="none"/><path d="M731.4,1014.44 V1054.56 M727.2,1014.44 H735.6 M727.2,1054.56 H735.6" stroke="#4fa3d9" stroke-width="1.6" fill="none"/><path d="M739.2,1012.13 V1053.79 M735,1012.13 H743.4 M735,1053.79 H743.4" stroke="#4fa3d9" stroke-width="1.6" fill="none"/><path d="M747,1007.5 V1050.7 M742.8,1007.5 H751.2 M742.8,1050.7 H751.2" stroke="#4fa3d9" stroke-width="1.6" fill="none"/><path d="M754.8,1005.19 V1048.39 M750.6,1005.19 H759 M750.6,1048.39 H759" stroke="#4fa3d9" stroke-width="1.6" fill="none"/><path d="M762.6,1002.87 V1046.07 M758.4,1002.87 H766.8 M758.4,1046.07 H766.8" stroke="#4fa3d9" stroke-width="1.6" fill="none"/><path d="M770.4,1000.56 V1043.76 M766.2,1000.56 H774.6 M766.2,1043.76 H774.6" stroke="#4fa3d9" stroke-width="1.6" fill="none"/><path d="M778.2,1001.33 V1039.9 M774,1001.33 H782.4 M774,1039.9 H782.4" stroke="#4fa3d9" stroke-width="1.6" fill="none"/><path d="M786,1008.27 V1034.5 M781.8,1008.27 H790.2 M781.8,1034.5 H790.2" stroke="#4fa3d9" stroke-width="1.6" fill="none"/><circle cx="559.8" cy="1171.81" r="3.95"/><circle cx="567.6" cy="1146.36" r="3.95"/><circle cx="575.4" cy="1130.93" r="3.95"/><circle cx="583.2" cy="1117.81" r="3.95"/><circle cx="591" cy="1108.56" r="3.95"/><circle cx="598.8" cy="1099.3" r="3.95"/><circle cx="606.6" cy="1091.59" r="3.95"/><circle cx="614.4" cy="1086.19" r="3.95"/><circle cx="622.2" cy="1083.87" r="3.95"/><circle cx="630" cy="1080.79" r="3.95"/><circle cx="637.8" cy="1066.9" r="3.95"/><circle cx="645.6" cy="1063.04" r="3.95"/><circle cx="653.4" cy="1052.24" r="3.95"/><circle cx="661.2" cy="1038.36" r="3.95"/><circle cx="669" cy="1031.41" r="3.95"/><circle cx="676.8" cy="1029.87" r="3.95"/><circle cx="684.6" cy="1037.59" r="3.95"/><circle cx="692.4" cy="1039.13" r="3.95"/><circle cx="700.2" cy="1035.27" r="3.95"/><circle cx="708" cy="1031.41" r="3.95"/><circle cx="715.8" cy="1032.19" r="3.95"/><circle cx="723.6" cy="1033.73" r="3.95"/><circle cx="731.4" cy="1034.5" r="3.95"/><circle cx="739.2" cy="1032.96" r="3.95"/><circle cx="747" cy="1029.1" r="3.95"/><circle cx="754.8" cy="1026.79" r="3.95"/><circle cx="762.6" cy="1024.47" r="3.95"/><circle cx="770.4" cy="1022.16" r="3.95"/><circle cx="778.2" cy="1020.61" r="3.95"/><circle cx="786" cy="1021.39" r="3.95"/><circle cx="793.8" cy="1025.24" r="3.95"/><circle cx="801.6" cy="1022.93" r="3.95"/><circle cx="809.4" cy="1020.61" r="3.95"/><circle cx="817.2" cy="1018.3" r="3.95"/><circle cx="825" cy="1017.53" r="3.95"/><circle cx="832.8" cy="1015.21" r="3.95"/><circle cx="840.6" cy="1013.67" r="3.95"/><circle cx="848.4" cy="1012.13" r="3.95"/><circle cx="856.2" cy="1011.36" r="3.95"/><circle cx="864" cy="1009.81" r="3.95"/><circle cx="871.8" cy="1009.04" r="3.95"/><circle cx="879.6" cy="1008.27" r="3.95"/><circle cx="887.4" cy="1008.27" r="3.95"/><circle cx="895.2" cy="1007.5" r="3.95"/><circle cx="903" cy="1006.73" r="3.95"/><circle cx="910.8" cy="1006.73" r="3.95"/><circle cx="918.6" cy="1006.73" r="3.95"/><circle cx="926.4" cy="1005.96" r="3.95"/><circle cx="934.2" cy="1005.96" r="3.95"/></g>
<path d="M547.8,1228.9 H559.8 M547.8,1190.33 H559.8 M547.8,1151.76 H559.8 M547.8,1113.19 H559.8 M547.8,1074.61 H559.8 M547.8,1036.04 H559.8 M547.8,997.47 H559.8 M547.8,958.9 H559.8 M559.8,1228.9 V1241.1 M622.2,1228.9 V1241.1 M684.6,1228.9 V1241.1 M747,1228.9 V1241.1 M809.4,1228.9 V1241.1 M871.8,1228.9 V1241.1 M934.2,1228.9 V1241.1" stroke="#000000" stroke-width="3.8" fill="none"/>
<circle cx="636.8" cy="932.1" r="5.8" fill="#a5aaaa" stroke="#535b5b" stroke-width="1.5"/>
<text x="672.9" y="937.8" font-size="21.6" text-anchor="start" fill="#000">WT</text>
<circle cx="733.5" cy="932.1" r="5.8" fill="#4fa3d9" stroke="#535b5b" stroke-width="1.5"/>
<text x="769.2" y="937.8" font-size="21.6" text-anchor="start" fill="#000">20 μM IPTG</text>
<line x1="166.14" y1="1305.6" x2="166.14" y2="1573.6" stroke="#b4b9bd" stroke-width="3.6" stroke-dasharray="11,4.6"/>
<line x1="121.4" y1="1338.31" x2="512.02" y2="1338.31" stroke="#231f20" stroke-width="3.2" stroke-dasharray="11,11.3"/>
<rect x="119.4" y="1303.6" width="404.7" height="270" fill="none" stroke="#000000" stroke-width="3.8"/>
<g fill="#a5aaaa" stroke="#535b5b" stroke-width="1.5"><path d="M158.35,1457.11 V1466.37 M154.15,1457.11 H162.55 M154.15,1466.37 H162.55" stroke="#535b5b" stroke-width="1.6" fill="none"/><path d="M166.14,1450.56 V1460.59 M161.94,1450.56 H170.34 M161.94,1460.59 H170.34" stroke="#535b5b" stroke-width="1.6" fill="none"/><path d="M173.93,1444.77 V1455.57 M169.73,1444.77 H178.13 M169.73,1455.57 H178.13" stroke="#535b5b" stroke-width="1.6" fill="none"/><path d="M384.26,1487.97 V1492.6 M380.06,1487.97 H388.46 M380.06,1492.6 H388.46" stroke="#535b5b" stroke-width="1.6" fill="none"/><path d="M392.05,1485.66 V1493.37 M387.85,1485.66 H396.25 M387.85,1493.37 H396.25" stroke="#535b5b" stroke-width="1.6" fill="none"/><path d="M399.84,1480.26 V1491.06 M395.64,1480.26 H404.04 M395.64,1491.06 H404.04" stroke="#535b5b" stroke-width="1.6" fill="none"/><path d="M407.63,1473.31 V1487.2 M403.43,1473.31 H411.83 M403.43,1487.2 H411.83" stroke="#535b5b" stroke-width="1.6" fill="none"/><path d="M415.42,1466.37 V1483.34 M411.22,1466.37 H419.62 M411.22,1483.34 H419.62" stroke="#535b5b" stroke-width="1.6" fill="none"/><path d="M423.21,1457.89 V1477.94 M419.01,1457.89 H427.41 M419.01,1477.94 H427.41" stroke="#535b5b" stroke-width="1.6" fill="none"/><path d="M431,1449.4 V1471 M426.8,1449.4 H435.2 M426.8,1471 H435.2" stroke="#535b5b" stroke-width="1.6" fill="none"/><path d="M438.79,1441.69 V1460.2 M434.59,1441.69 H442.99 M434.59,1460.2 H442.99" stroke="#535b5b" stroke-width="1.6" fill="none"/><path d="M446.58,1433.97 V1450.94 M442.38,1433.97 H450.78 M442.38,1450.94 H450.78" stroke="#535b5b" stroke-width="1.6" fill="none"/><path d="M454.37,1427.8 V1443.23 M450.17,1427.8 H458.57 M450.17,1443.23 H458.57" stroke="#535b5b" stroke-width="1.6" fill="none"/><path d="M462.16,1420.86 V1436.29 M457.96,1420.86 H466.36 M457.96,1436.29 H466.36" stroke="#535b5b" stroke-width="1.6" fill="none"/><path d="M469.95,1414.69 V1430.11 M465.75,1414.69 H474.15 M465.75,1430.11 H474.15" stroke="#535b5b" stroke-width="1.6" fill="none"/><path d="M477.74,1409.67 V1424.33 M473.54,1409.67 H481.94 M473.54,1424.33 H481.94" stroke="#535b5b" stroke-width="1.6" fill="none"/><path d="M485.53,1406.2 V1420.09 M481.33,1406.2 H489.73 M481.33,1420.09 H489.73" stroke="#535b5b" stroke-width="1.6" fill="none"/><path d="M493.32,1402.57 V1416 M489.12,1402.57 H497.52 M489.12,1416 H497.52" stroke="#535b5b" stroke-width="1.6" fill="none"/><circle cx="119.4" cy="1518.06" r="3.95"/><circle cx="127.19" cy="1504.94" r="3.95"/><circle cx="134.98" cy="1488.74" r="3.95"/><circle cx="142.77" cy="1481.8" r="3.95"/><circle cx="150.56" cy="1469.46" r="3.95"/><circle cx="158.35" cy="1461.74" r="3.95"/><circle cx="166.14" cy="1455.57" r="3.95"/><circle cx="173.93" cy="1450.17" r="3.95"/><circle cx="181.72" cy="1454.03" r="3.95"/><circle cx="189.51" cy="1455.57" r="3.95"/><circle cx="197.3" cy="1454.03" r="3.95"/><circle cx="205.09" cy="1452.49" r="3.95"/><circle cx="212.88" cy="1452.49" r="3.95"/><circle cx="220.67" cy="1451.71" r="3.95"/><circle cx="228.46" cy="1451.71" r="3.95"/><circle cx="236.25" cy="1452.49" r="3.95"/><circle cx="244.04" cy="1453.26" r="3.95"/><circle cx="251.83" cy="1454.03" r="3.95"/><circle cx="259.62" cy="1457.89" r="3.95"/><circle cx="267.41" cy="1461.74" r="3.95"/><circle cx="275.2" cy="1464.83" r="3.95"/><circle cx="282.99" cy="1469.46" r="3.95"/><circle cx="290.78" cy="1472.54" r="3.95"/><circle cx="298.57" cy="1475.63" r="3.95"/><circle cx="306.36" cy="1477.94" r="3.95"/><circle cx="314.15" cy="1480.26" r="3.95"/><circle cx="321.94" cy="1482.57" r="3.95"/><circle cx="329.73" cy="1485.66" r="3.95"/><circle cx="337.52" cy="1486.43" r="3.95"/><circle cx="345.31" cy="1488.74" r="3.95"/><circle cx="353.1" cy="1489.51" r="3.95"/><circle cx="360.89" cy="1491.06" r="3.95"/><circle cx="368.68" cy="1492.6" r="3.95"/><circle cx="376.47" cy="1491.83" r="3.95"/><circle cx="384.26" cy="1490.29" r="3.95"/><circle cx="392.05" cy="1489.51" r="3.95"/><circle cx="399.84" cy="1485.66" r="3.95"/><circle cx="407.63" cy="1480.26" r="3.95"/><circle cx="415.42" cy="1474.86" r="3.95"/><circle cx="423.21" cy="1467.91" r="3.95"/><circle cx="431" cy="1460.2" r="3.95"/><circle cx="438.79" cy="1450.94" r="3.95"/><circle cx="446.58" cy="1442.46" r="3.95"/><circle cx="454.37" cy="1435.51" r="3.95"/><circle cx="462.16" cy="1428.57" r="3.95"/><circle cx="469.95" cy="1422.4" r="3.95"/><circle cx="477.74" cy="1417" r="3.95"/><circle cx="485.53" cy="1413.14" r="3.95"/><circle cx="493.32" cy="1409.29" r="3.95"/></g>
<g fill="#c06fac" stroke="#535b5b" stroke-width="1.5"><path d="M142.77,1456.34 V1462.51 M138.57,1456.34 H146.97 M138.57,1462.51 H146.97" stroke="#c06fac" stroke-width="1.6" fill="none"/><path d="M150.56,1445.54 V1450.17 M146.36,1445.54 H154.76 M146.36,1450.17 H154.76" stroke="#c06fac" stroke-width="1.6" fill="none"/><path d="M205.09,1412.37 V1418.54 M200.89,1412.37 H209.29 M200.89,1418.54 H209.29" stroke="#c06fac" stroke-width="1.6" fill="none"/><path d="M212.88,1414.69 V1420.86 M208.68,1414.69 H217.08 M208.68,1420.86 H217.08" stroke="#c06fac" stroke-width="1.6" fill="none"/><path d="M220.67,1382.29 V1411.6 M216.47,1382.29 H224.87 M216.47,1411.6 H224.87" stroke="#c06fac" stroke-width="1.6" fill="none"/><path d="M228.46,1382.29 V1406.97 M224.26,1382.29 H232.66 M224.26,1406.97 H232.66" stroke="#c06fac" stroke-width="1.6" fill="none"/><path d="M236.25,1381.51 V1406.2 M232.05,1381.51 H240.45 M232.05,1406.2 H240.45" stroke="#c06fac" stroke-width="1.6" fill="none"/><path d="M244.04,1375.34 V1409.29 M239.84,1375.34 H248.24 M239.84,1409.29 H248.24" stroke="#c06fac" stroke-width="1.6" fill="none"/><path d="M251.83,1375.34 V1400.03 M247.63,1375.34 H256.03 M247.63,1400.03 H256.03" stroke="#c06fac" stroke-width="1.6" fill="none"/><path d="M259.62,1381.51 V1412.37 M255.42,1381.51 H263.82 M255.42,1412.37 H263.82" stroke="#c06fac" stroke-width="1.6" fill="none"/><path d="M267.41,1388.46 V1410.06 M263.21,1388.46 H271.61 M263.21,1410.06 H271.61" stroke="#c06fac" stroke-width="1.6" fill="none"/><path d="M275.2,1400.8 V1405.43 M271,1400.8 H279.4 M271,1405.43 H279.4" stroke="#c06fac" stroke-width="1.6" fill="none"/><path d="M290.78,1396.94 V1401.57 M286.58,1396.94 H294.98 M286.58,1401.57 H294.98" stroke="#c06fac" stroke-width="1.6" fill="none"/><path d="M306.36,1390 V1397.71 M302.16,1390 H310.56 M302.16,1397.71 H310.56" stroke="#c06fac" stroke-width="1.6" fill="none"/><path d="M314.15,1386.91 V1396.17 M309.95,1386.91 H318.35 M309.95,1396.17 H318.35" stroke="#c06fac" stroke-width="1.6" fill="none"/><path d="M321.94,1380.74 V1396.17 M317.74,1380.74 H326.14 M317.74,1396.17 H326.14" stroke="#c06fac" stroke-width="1.6" fill="none"/><path d="M399.84,1387.69 V1392.31 M395.64,1387.69 H404.04 M395.64,1392.31 H404.04" stroke="#c06fac" stroke-width="1.6" fill="none"/><path d="M415.42,1389.23 V1393.86 M411.22,1389.23 H419.62 M411.22,1393.86 H419.62" stroke="#c06fac" stroke-width="1.6" fill="none"/><path d="M431,1389.23 V1393.86 M426.8,1389.23 H435.2 M426.8,1393.86 H435.2" stroke="#c06fac" stroke-width="1.6" fill="none"/><path d="M446.58,1388.46 V1393.09 M442.38,1388.46 H450.78 M442.38,1393.09 H450.78" stroke="#c06fac" stroke-width="1.6" fill="none"/><path d="M462.16,1387.69 V1392.31 M457.96,1387.69 H466.36 M457.96,1392.31 H466.36" stroke="#c06fac" stroke-width="1.6" fill="none"/><path d="M477.74,1386.91 V1391.54 M473.54,1386.91 H481.94 M473.54,1391.54 H481.94" stroke="#c06fac" stroke-width="1.6" fill="none"/><path d="M493.32,1386.14 V1390.77 M489.12,1386.14 H497.52 M489.12,1390.77 H497.52" stroke="#c06fac" stroke-width="1.6" fill="none"/><circle cx="119.4" cy="1515.74" r="3.95"/><circle cx="127.19" cy="1494.14" r="3.95"/><circle cx="134.98" cy="1475.63" r="3.95"/><circle cx="142.77" cy="1459.43" r="3.95"/><circle cx="150.56" cy="1447.86" r="3.95"/><circle cx="158.35" cy="1437.83" r="3.95"/><circle cx="166.14" cy="1430.11" r="3.95"/><circle cx="173.93" cy="1424.71" r="3.95"/><circle cx="181.72" cy="1420.86" r="3.95"/><circle cx="189.51" cy="1418.54" r="3.95"/><circle cx="197.3" cy="1406.97" r="3.95"/><circle cx="205.09" cy="1415.46" r="3.95"/><circle cx="212.88" cy="1417.77" r="3.95"/><circle cx="220.67" cy="1396.94" r="3.95"/><circle cx="228.46" cy="1394.63" r="3.95"/><circle cx="236.25" cy="1393.86" r="3.95"/><circle cx="244.04" cy="1392.31" r="3.95"/><circle cx="251.83" cy="1387.69" r="3.95"/><circle cx="259.62" cy="1396.94" r="3.95"/><circle cx="267.41" cy="1399.26" r="3.95"/><circle cx="275.2" cy="1403.11" r="3.95"/><circle cx="282.99" cy="1400.8" r="3.95"/><circle cx="290.78" cy="1399.26" r="3.95"/><circle cx="298.57" cy="1396.94" r="3.95"/><circle cx="306.36" cy="1393.86" r="3.95"/><circle cx="314.15" cy="1391.54" r="3.95"/><circle cx="321.94" cy="1388.46" r="3.95"/><circle cx="329.73" cy="1388.46" r="3.95"/><circle cx="337.52" cy="1387.69" r="3.95"/><circle cx="345.31" cy="1386.91" r="3.95"/><circle cx="353.1" cy="1386.14" r="3.95"/><circle cx="360.89" cy="1386.14" r="3.95"/><circle cx="368.68" cy="1386.14" r="3.95"/><circle cx="376.47" cy="1386.91" r="3.95"/><circle cx="384.26" cy="1387.69" r="3.95"/><circle cx="392.05" cy="1389.23" r="3.95"/><circle cx="399.84" cy="1390" r="3.95"/><circle cx="407.63" cy="1390.77" r="3.95"/><circle cx="415.42" cy="1391.54" r="3.95"/><circle cx="423.21" cy="1391.54" r="3.95"/><circle cx="431" cy="1391.54" r="3.95"/><circle cx="438.79" cy="1391.54" r="3.95"/><circle cx="446.58" cy="1390.77" r="3.95"/><circle cx="454.37" cy="1390.77" r="3.95"/><circle cx="462.16" cy="1390" r="3.95"/><circle cx="469.95" cy="1390" r="3.95"/><circle cx="477.74" cy="1389.23" r="3.95"/><circle cx="485.53" cy="1389.23" r="3.95"/><circle cx="493.32" cy="1388.46" r="3.95"/></g>
<text x="99.9" y="1582" font-size="23.5" text-anchor="end" fill="#000">0.0</text>
<text x="99.9" y="1543.43" font-size="23.5" text-anchor="end" fill="#000">0.5</text>
<text x="99.9" y="1504.86" font-size="23.5" text-anchor="end" fill="#000">1.0</text>
<text x="99.9" y="1466.29" font-size="23.5" text-anchor="end" fill="#000">1.5</text>
<text x="99.9" y="1427.71" font-size="23.5" text-anchor="end" fill="#000">2.0</text>
<text x="99.9" y="1389.14" font-size="23.5" text-anchor="end" fill="#000">2.5</text>
<text x="99.9" y="1350.57" font-size="23.5" text-anchor="end" fill="#000">3.0</text>
<text x="99.9" y="1312" font-size="23.5" text-anchor="end" fill="#000">3.5</text>
<path d="M107.4,1573.6 H119.4 M107.4,1535.03 H119.4 M107.4,1496.46 H119.4 M107.4,1457.89 H119.4 M107.4,1419.31 H119.4 M107.4,1380.74 H119.4 M107.4,1342.17 H119.4 M107.4,1303.6 H119.4 M119.4,1573.6 V1585.8 M181.72,1573.6 V1585.8 M244.04,1573.6 V1585.8 M306.36,1573.6 V1585.8 M368.68,1573.6 V1585.8 M431,1573.6 V1585.8 M493.32,1573.6 V1585.8" stroke="#000000" stroke-width="3.8" fill="none"/>
<circle cx="196.4" cy="1281.2" r="5.8" fill="#a5aaaa" stroke="#535b5b" stroke-width="1.5"/>
<text x="232.5" y="1286.9" font-size="21.6" text-anchor="start" fill="#000">WT</text>
<circle cx="293.1" cy="1281.2" r="5.8" fill="#c06fac" stroke="#535b5b" stroke-width="1.5"/>
<text x="328.8" y="1286.9" font-size="21.6" text-anchor="start" fill="#000">200 μM IPTG</text>
<text x="117.8" y="1614" font-size="23.5" text-anchor="middle" fill="#000">0</text>
<text x="180.12" y="1614" font-size="23.5" text-anchor="middle" fill="#000">4</text>
<text x="242.44" y="1614" font-size="23.5" text-anchor="middle" fill="#000">8</text>
<text x="304.76" y="1614" font-size="23.5" text-anchor="middle" fill="#000">12</text>
<text x="367.08" y="1614" font-size="23.5" text-anchor="middle" fill="#000">16</text>
<text x="429.4" y="1614" font-size="23.5" text-anchor="middle" fill="#000">20</text>
<text x="491.72" y="1614" font-size="23.5" text-anchor="middle" fill="#000">24</text>
<line x1="606.6" y1="1305.6" x2="606.6" y2="1573.6" stroke="#b4b9bd" stroke-width="3.6" stroke-dasharray="11,4.6"/>
<line x1="561.8" y1="1338.31" x2="952.92" y2="1338.31" stroke="#231f20" stroke-width="3.2" stroke-dasharray="11,11.3"/>
<rect x="559.8" y="1303.6" width="404.4" height="270" fill="none" stroke="#000000" stroke-width="3.8"/>
<g fill="#a5aaaa" stroke="#535b5b" stroke-width="1.5"><path d="M598.8,1457.11 V1466.37 M594.6,1457.11 H603 M594.6,1466.37 H603" stroke="#535b5b" stroke-width="1.6" fill="none"/><path d="M606.6,1450.56 V1460.59 M602.4,1450.56 H610.8 M602.4,1460.59 H610.8" stroke="#535b5b" stroke-width="1.6" fill="none"/><path d="M614.4,1444.77 V1455.57 M610.2,1444.77 H618.6 M610.2,1455.57 H618.6" stroke="#535b5b" stroke-width="1.6" fill="none"/><path d="M825,1487.97 V1492.6 M820.8,1487.97 H829.2 M820.8,1492.6 H829.2" stroke="#535b5b" stroke-width="1.6" fill="none"/><path d="M832.8,1485.66 V1493.37 M828.6,1485.66 H837 M828.6,1493.37 H837" stroke="#535b5b" stroke-width="1.6" fill="none"/><path d="M840.6,1480.26 V1491.06 M836.4,1480.26 H844.8 M836.4,1491.06 H844.8" stroke="#535b5b" stroke-width="1.6" fill="none"/><path d="M848.4,1473.31 V1487.2 M844.2,1473.31 H852.6 M844.2,1487.2 H852.6" stroke="#535b5b" stroke-width="1.6" fill="none"/><path d="M856.2,1466.37 V1483.34 M852,1466.37 H860.4 M852,1483.34 H860.4" stroke="#535b5b" stroke-width="1.6" fill="none"/><path d="M864,1457.89 V1477.94 M859.8,1457.89 H868.2 M859.8,1477.94 H868.2" stroke="#535b5b" stroke-width="1.6" fill="none"/><path d="M871.8,1449.4 V1471 M867.6,1449.4 H876 M867.6,1471 H876" stroke="#535b5b" stroke-width="1.6" fill="none"/><path d="M879.6,1441.69 V1460.2 M875.4,1441.69 H883.8 M875.4,1460.2 H883.8" stroke="#535b5b" stroke-width="1.6" fill="none"/><path d="M887.4,1433.97 V1450.94 M883.2,1433.97 H891.6 M883.2,1450.94 H891.6" stroke="#535b5b" stroke-width="1.6" fill="none"/><path d="M895.2,1427.8 V1443.23 M891,1427.8 H899.4 M891,1443.23 H899.4" stroke="#535b5b" stroke-width="1.6" fill="none"/><path d="M903,1420.86 V1436.29 M898.8,1420.86 H907.2 M898.8,1436.29 H907.2" stroke="#535b5b" stroke-width="1.6" fill="none"/><path d="M910.8,1414.69 V1430.11 M906.6,1414.69 H915 M906.6,1430.11 H915" stroke="#535b5b" stroke-width="1.6" fill="none"/><path d="M918.6,1409.67 V1424.33 M914.4,1409.67 H922.8 M914.4,1424.33 H922.8" stroke="#535b5b" stroke-width="1.6" fill="none"/><path d="M926.4,1406.2 V1420.09 M922.2,1406.2 H930.6 M922.2,1420.09 H930.6" stroke="#535b5b" stroke-width="1.6" fill="none"/><path d="M934.2,1402.57 V1416 M930,1402.57 H938.4 M930,1416 H938.4" stroke="#535b5b" stroke-width="1.6" fill="none"/><circle cx="559.8" cy="1518.06" r="3.95"/><circle cx="567.6" cy="1504.94" r="3.95"/><circle cx="575.4" cy="1488.74" r="3.95"/><circle cx="583.2" cy="1481.8" r="3.95"/><circle cx="591" cy="1469.46" r="3.95"/><circle cx="598.8" cy="1461.74" r="3.95"/><circle cx="606.6" cy="1455.57" r="3.95"/><circle cx="614.4" cy="1450.17" r="3.95"/><circle cx="622.2" cy="1454.03" r="3.95"/><circle cx="630" cy="1455.57" r="3.95"/><circle cx="637.8" cy="1454.03" r="3.95"/><circle cx="645.6" cy="1452.49" r="3.95"/><circle cx="653.4" cy="1452.49" r="3.95"/><circle cx="661.2" cy="1451.71" r="3.95"/><circle cx="669" cy="1451.71" r="3.95"/><circle cx="676.8" cy="1452.49" r="3.95"/><circle cx="684.6" cy="1453.26" r="3.95"/><circle cx="692.4" cy="1454.03" r="3.95"/><circle cx="700.2" cy="1457.89" r="3.95"/><circle cx="708" cy="1461.74" r="3.95"/><circle cx="715.8" cy="1464.83" r="3.95"/><circle cx="723.6" cy="1469.46" r="3.95"/><circle cx="731.4" cy="1472.54" r="3.95"/><circle cx="739.2" cy="1475.63" r="3.95"/><circle cx="747" cy="1477.94" r="3.95"/><circle cx="754.8" cy="1480.26" r="3.95"/><circle cx="762.6" cy="1482.57" r="3.95"/><circle cx="770.4" cy="1485.66" r="3.95"/><circle cx="778.2" cy="1486.43" r="3.95"/><circle cx="786" cy="1488.74" r="3.95"/><circle cx="793.8" cy="1489.51" r="3.95"/><circle cx="801.6" cy="1491.06" r="3.95"/><circle cx="809.4" cy="1492.6" r="3.95"/><circle cx="817.2" cy="1491.83" r="3.95"/><circle cx="825" cy="1490.29" r="3.95"/><circle cx="832.8" cy="1489.51" r="3.95"/><circle cx="840.6" cy="1485.66" r="3.95"/><circle cx="848.4" cy="1480.26" r="3.95"/><circle cx="856.2" cy="1474.86" r="3.95"/><circle cx="864" cy="1467.91" r="3.95"/><circle cx="871.8" cy="1460.2" r="3.95"/><circle cx="879.6" cy="1450.94" r="3.95"/><circle cx="887.4" cy="1442.46" r="3.95"/><circle cx="895.2" cy="1435.51" r="3.95"/><circle cx="903" cy="1428.57" r="3.95"/><circle cx="910.8" cy="1422.4" r="3.95"/><circle cx="918.6" cy="1417" r="3.95"/><circle cx="926.4" cy="1413.14" r="3.95"/><circle cx="934.2" cy="1409.29" r="3.95"/></g>
<g fill="#7b73b5" stroke="#535b5b" stroke-width="1.5"><path d="M645.6,1412.37 V1420.09 M641.4,1412.37 H649.8 M641.4,1420.09 H649.8" stroke="#7b73b5" stroke-width="1.6" fill="none"/><path d="M653.4,1410.83 V1418.54 M649.2,1410.83 H657.6 M649.2,1418.54 H657.6" stroke="#7b73b5" stroke-width="1.6" fill="none"/><path d="M669,1393.09 V1408.51 M664.8,1393.09 H673.2 M664.8,1408.51 H673.2" stroke="#7b73b5" stroke-width="1.6" fill="none"/><path d="M676.8,1383.06 V1410.83 M672.6,1383.06 H681 M672.6,1410.83 H681" stroke="#7b73b5" stroke-width="1.6" fill="none"/><path d="M684.6,1383.06 V1403.11 M680.4,1383.06 H688.8 M680.4,1403.11 H688.8" stroke="#7b73b5" stroke-width="1.6" fill="none"/><path d="M692.4,1383.83 V1405.43 M688.2,1383.83 H696.6 M688.2,1405.43 H696.6" stroke="#7b73b5" stroke-width="1.6" fill="none"/><path d="M700.2,1399.26 V1410.06 M696,1399.26 H704.4 M696,1410.06 H704.4" stroke="#7b73b5" stroke-width="1.6" fill="none"/><path d="M778.2,1381.51 V1392.31 M774,1381.51 H782.4 M774,1392.31 H782.4" stroke="#7b73b5" stroke-width="1.6" fill="none"/><circle cx="559.8" cy="1517.29" r="3.95"/><circle cx="567.6" cy="1494.91" r="3.95"/><circle cx="575.4" cy="1475.63" r="3.95"/><circle cx="583.2" cy="1458.66" r="3.95"/><circle cx="591" cy="1447.09" r="3.95"/><circle cx="598.8" cy="1437.83" r="3.95"/><circle cx="606.6" cy="1430.11" r="3.95"/><circle cx="614.4" cy="1425.49" r="3.95"/><circle cx="622.2" cy="1421.63" r="3.95"/><circle cx="630" cy="1419.31" r="3.95"/><circle cx="637.8" cy="1406.97" r="3.95"/><circle cx="645.6" cy="1416.23" r="3.95"/><circle cx="653.4" cy="1414.69" r="3.95"/><circle cx="661.2" cy="1402.34" r="3.95"/><circle cx="669" cy="1400.8" r="3.95"/><circle cx="676.8" cy="1396.94" r="3.95"/><circle cx="684.6" cy="1393.09" r="3.95"/><circle cx="692.4" cy="1394.63" r="3.95"/><circle cx="700.2" cy="1404.66" r="3.95"/><circle cx="708" cy="1408.51" r="3.95"/><circle cx="715.8" cy="1406.97" r="3.95"/><circle cx="723.6" cy="1405.43" r="3.95"/><circle cx="731.4" cy="1403.11" r="3.95"/><circle cx="739.2" cy="1399.26" r="3.95"/><circle cx="747" cy="1396.17" r="3.95"/><circle cx="754.8" cy="1394.63" r="3.95"/><circle cx="762.6" cy="1391.54" r="3.95"/><circle cx="770.4" cy="1390" r="3.95"/><circle cx="778.2" cy="1386.91" r="3.95"/><circle cx="786" cy="1386.91" r="3.95"/><circle cx="793.8" cy="1387.69" r="3.95"/><circle cx="801.6" cy="1386.91" r="3.95"/><circle cx="809.4" cy="1386.91" r="3.95"/><circle cx="817.2" cy="1387.69" r="3.95"/><circle cx="825" cy="1388.46" r="3.95"/><circle cx="832.8" cy="1389.23" r="3.95"/><circle cx="840.6" cy="1390.77" r="3.95"/><circle cx="848.4" cy="1390.77" r="3.95"/><circle cx="856.2" cy="1391.54" r="3.95"/><circle cx="864" cy="1391.54" r="3.95"/><circle cx="871.8" cy="1391.54" r="3.95"/><circle cx="879.6" cy="1391.54" r="3.95"/><circle cx="887.4" cy="1391.54" r="3.95"/><circle cx="895.2" cy="1391.54" r="3.95"/><circle cx="903" cy="1390.77" r="3.95"/><circle cx="910.8" cy="1390.77" r="3.95"/><circle cx="918.6" cy="1390.77" r="3.95"/><circle cx="926.4" cy="1390.77" r="3.95"/><circle cx="934.2" cy="1390.77" r="3.95"/></g>
<path d="M547.8,1573.6 H559.8 M547.8,1535.03 H559.8 M547.8,1496.46 H559.8 M547.8,1457.89 H559.8 M547.8,1419.31 H559.8 M547.8,1380.74 H559.8 M547.8,1342.17 H559.8 M547.8,1303.6 H559.8 M559.8,1573.6 V1585.8 M622.2,1573.6 V1585.8 M684.6,1573.6 V1585.8 M747,1573.6 V1585.8 M809.4,1573.6 V1585.8 M871.8,1573.6 V1585.8 M934.2,1573.6 V1585.8" stroke="#000000" stroke-width="3.8" fill="none"/>
<circle cx="636.8" cy="1281.2" r="5.8" fill="#a5aaaa" stroke="#535b5b" stroke-width="1.5"/>
<text x="672.9" y="1286.9" font-size="21.6" text-anchor="start" fill="#000">WT</text>
<circle cx="733.5" cy="1281.2" r="5.8" fill="#7b73b5" stroke="#535b5b" stroke-width="1.5"/>
<text x="769.2" y="1286.9" font-size="21.6" text-anchor="start" fill="#000">400 μM IPTG</text>
<text x="558.2" y="1614" font-size="23.5" text-anchor="middle" fill="#000">0</text>
<text x="620.6" y="1614" font-size="23.5" text-anchor="middle" fill="#000">4</text>
<text x="683" y="1614" font-size="23.5" text-anchor="middle" fill="#000">8</text>
<text x="745.4" y="1614" font-size="23.5" text-anchor="middle" fill="#000">12</text>
<text x="807.8" y="1614" font-size="23.5" text-anchor="middle" fill="#000">16</text>
<text x="870.2" y="1614" font-size="23.5" text-anchor="middle" fill="#000">20</text>
<text x="932.6" y="1614" font-size="23.5" text-anchor="middle" fill="#000">24</text>
<line x1="1184.4" y1="960.9" x2="1184.4" y2="1228.9" stroke="#b4b9bd" stroke-width="3.6" stroke-dasharray="11,4.6"/>
<line x1="1139.9" y1="992.07" x2="1528.5" y2="992.07" stroke="#231f20" stroke-width="3.2" stroke-dasharray="11,11.3"/>
<rect x="1137.9" y="958.9" width="407.5" height="270" fill="none" stroke="#000000" stroke-width="3.8"/>
<g fill="#a5aaaa" stroke="#535b5b" stroke-width="1.5"><path d="M1176.65,1112.41 V1121.67 M1172.45,1112.41 H1180.85 M1172.45,1121.67 H1180.85" stroke="#535b5b" stroke-width="1.6" fill="none"/><path d="M1184.4,1105.86 V1115.89 M1180.2,1105.86 H1188.6 M1180.2,1115.89 H1188.6" stroke="#535b5b" stroke-width="1.6" fill="none"/><path d="M1192.15,1100.07 V1110.87 M1187.95,1100.07 H1196.35 M1187.95,1110.87 H1196.35" stroke="#535b5b" stroke-width="1.6" fill="none"/><path d="M1401.4,1143.27 V1147.9 M1397.2,1143.27 H1405.6 M1397.2,1147.9 H1405.6" stroke="#535b5b" stroke-width="1.6" fill="none"/><path d="M1409.15,1140.96 V1148.67 M1404.95,1140.96 H1413.35 M1404.95,1148.67 H1413.35" stroke="#535b5b" stroke-width="1.6" fill="none"/><path d="M1416.9,1135.56 V1146.36 M1412.7,1135.56 H1421.1 M1412.7,1146.36 H1421.1" stroke="#535b5b" stroke-width="1.6" fill="none"/><path d="M1424.65,1128.61 V1142.5 M1420.45,1128.61 H1428.85 M1420.45,1142.5 H1428.85" stroke="#535b5b" stroke-width="1.6" fill="none"/><path d="M1432.4,1121.67 V1138.64 M1428.2,1121.67 H1436.6 M1428.2,1138.64 H1436.6" stroke="#535b5b" stroke-width="1.6" fill="none"/><path d="M1440.15,1113.19 V1133.24 M1435.95,1113.19 H1444.35 M1435.95,1133.24 H1444.35" stroke="#535b5b" stroke-width="1.6" fill="none"/><path d="M1447.9,1104.7 V1126.3 M1443.7,1104.7 H1452.1 M1443.7,1126.3 H1452.1" stroke="#535b5b" stroke-width="1.6" fill="none"/><path d="M1455.65,1096.99 V1115.5 M1451.45,1096.99 H1459.85 M1451.45,1115.5 H1459.85" stroke="#535b5b" stroke-width="1.6" fill="none"/><path d="M1463.4,1089.27 V1106.24 M1459.2,1089.27 H1467.6 M1459.2,1106.24 H1467.6" stroke="#535b5b" stroke-width="1.6" fill="none"/><path d="M1471.15,1083.1 V1098.53 M1466.95,1083.1 H1475.35 M1466.95,1098.53 H1475.35" stroke="#535b5b" stroke-width="1.6" fill="none"/><path d="M1478.9,1076.16 V1091.59 M1474.7,1076.16 H1483.1 M1474.7,1091.59 H1483.1" stroke="#535b5b" stroke-width="1.6" fill="none"/><path d="M1486.65,1069.99 V1085.41 M1482.45,1069.99 H1490.85 M1482.45,1085.41 H1490.85" stroke="#535b5b" stroke-width="1.6" fill="none"/><path d="M1494.4,1064.97 V1079.63 M1490.2,1064.97 H1498.6 M1490.2,1079.63 H1498.6" stroke="#535b5b" stroke-width="1.6" fill="none"/><path d="M1502.15,1061.5 V1075.39 M1497.95,1061.5 H1506.35 M1497.95,1075.39 H1506.35" stroke="#535b5b" stroke-width="1.6" fill="none"/><path d="M1509.9,1057.87 V1071.3 M1505.7,1057.87 H1514.1 M1505.7,1071.3 H1514.1" stroke="#535b5b" stroke-width="1.6" fill="none"/><circle cx="1137.9" cy="1173.36" r="3.95"/><circle cx="1145.65" cy="1160.24" r="3.95"/><circle cx="1153.4" cy="1144.04" r="3.95"/><circle cx="1161.15" cy="1137.1" r="3.95"/><circle cx="1168.9" cy="1124.76" r="3.95"/><circle cx="1176.65" cy="1117.04" r="3.95"/><circle cx="1184.4" cy="1110.87" r="3.95"/><circle cx="1192.15" cy="1105.47" r="3.95"/><circle cx="1199.9" cy="1109.33" r="3.95"/><circle cx="1207.65" cy="1110.87" r="3.95"/><circle cx="1215.4" cy="1109.33" r="3.95"/><circle cx="1223.15" cy="1107.79" r="3.95"/><circle cx="1230.9" cy="1107.79" r="3.95"/><circle cx="1238.65" cy="1107.01" r="3.95"/><circle cx="1246.4" cy="1107.01" r="3.95"/><circle cx="1254.15" cy="1107.79" r="3.95"/><circle cx="1261.9" cy="1108.56" r="3.95"/><circle cx="1269.65" cy="1109.33" r="3.95"/><circle cx="1277.4" cy="1113.19" r="3.95"/><circle cx="1285.15" cy="1117.04" r="3.95"/><circle cx="1292.9" cy="1120.13" r="3.95"/><circle cx="1300.65" cy="1124.76" r="3.95"/><circle cx="1308.4" cy="1127.84" r="3.95"/><circle cx="1316.15" cy="1130.93" r="3.95"/><circle cx="1323.9" cy="1133.24" r="3.95"/><circle cx="1331.65" cy="1135.56" r="3.95"/><circle cx="1339.4" cy="1137.87" r="3.95"/><circle cx="1347.15" cy="1140.96" r="3.95"/><circle cx="1354.9" cy="1141.73" r="3.95"/><circle cx="1362.65" cy="1144.04" r="3.95"/><circle cx="1370.4" cy="1144.81" r="3.95"/><circle cx="1378.15" cy="1146.36" r="3.95"/><circle cx="1385.9" cy="1147.9" r="3.95"/><circle cx="1393.65" cy="1147.13" r="3.95"/><circle cx="1401.4" cy="1145.59" r="3.95"/><circle cx="1409.15" cy="1144.81" r="3.95"/><circle cx="1416.9" cy="1140.96" r="3.95"/><circle cx="1424.65" cy="1135.56" r="3.95"/><circle cx="1432.4" cy="1130.16" r="3.95"/><circle cx="1440.15" cy="1123.21" r="3.95"/><circle cx="1447.9" cy="1115.5" r="3.95"/><circle cx="1455.65" cy="1106.24" r="3.95"/><circle cx="1463.4" cy="1097.76" r="3.95"/><circle cx="1471.15" cy="1090.81" r="3.95"/><circle cx="1478.9" cy="1083.87" r="3.95"/><circle cx="1486.65" cy="1077.7" r="3.95"/><circle cx="1494.4" cy="1072.3" r="3.95"/><circle cx="1502.15" cy="1068.44" r="3.95"/><circle cx="1509.9" cy="1064.59" r="3.95"/></g>
<g fill="#5fb586" stroke="#535b5b" stroke-width="1.5"><path d="M1230.9,1064.59 V1070.76 M1226.7,1064.59 H1235.1 M1226.7,1070.76 H1235.1" stroke="#5fb586" stroke-width="1.6" fill="none"/><path d="M1238.65,1058.41 V1064.59 M1234.45,1058.41 H1242.85 M1234.45,1064.59 H1242.85" stroke="#5fb586" stroke-width="1.6" fill="none"/><path d="M1246.4,1050.7 V1063.04 M1242.2,1050.7 H1250.6 M1242.2,1063.04 H1250.6" stroke="#5fb586" stroke-width="1.6" fill="none"/><path d="M1254.15,1034.5 V1060.73 M1249.95,1034.5 H1258.35 M1249.95,1060.73 H1258.35" stroke="#5fb586" stroke-width="1.6" fill="none"/><path d="M1261.9,1029.1 V1050.7 M1257.7,1029.1 H1266.1 M1257.7,1050.7 H1266.1" stroke="#5fb586" stroke-width="1.6" fill="none"/><path d="M1269.65,1029.1 V1038.36 M1265.45,1029.1 H1273.85 M1265.45,1038.36 H1273.85" stroke="#5fb586" stroke-width="1.6" fill="none"/><path d="M1277.4,1031.41 V1054.56 M1273.2,1031.41 H1281.6 M1273.2,1054.56 H1281.6" stroke="#5fb586" stroke-width="1.6" fill="none"/><path d="M1285.15,1035.27 V1053.79 M1280.95,1035.27 H1289.35 M1280.95,1053.79 H1289.35" stroke="#5fb586" stroke-width="1.6" fill="none"/><path d="M1292.9,1043.76 V1051.47 M1288.7,1043.76 H1297.1 M1288.7,1051.47 H1297.1" stroke="#5fb586" stroke-width="1.6" fill="none"/><path d="M1308.4,1043.76 V1051.47 M1304.2,1043.76 H1312.6 M1304.2,1051.47 H1312.6" stroke="#5fb586" stroke-width="1.6" fill="none"/><path d="M1316.15,1042.99 V1049.16 M1311.95,1042.99 H1320.35 M1311.95,1049.16 H1320.35" stroke="#5fb586" stroke-width="1.6" fill="none"/><path d="M1478.9,1011.36 V1020.61 M1474.7,1011.36 H1483.1 M1474.7,1020.61 H1483.1" stroke="#5fb586" stroke-width="1.6" fill="none"/><path d="M1486.65,1005.96 V1022.93 M1482.45,1005.96 H1490.85 M1482.45,1022.93 H1490.85" stroke="#5fb586" stroke-width="1.6" fill="none"/><path d="M1494.4,1003.64 V1023.7 M1490.2,1003.64 H1498.6 M1490.2,1023.7 H1498.6" stroke="#5fb586" stroke-width="1.6" fill="none"/><path d="M1502.15,1001.33 V1022.93 M1497.95,1001.33 H1506.35 M1497.95,1022.93 H1506.35" stroke="#5fb586" stroke-width="1.6" fill="none"/><path d="M1509.9,997.47 V1022.16 M1505.7,997.47 H1514.1 M1505.7,1022.16 H1514.1" stroke="#5fb586" stroke-width="1.6" fill="none"/><circle cx="1137.9" cy="1171.04" r="3.95"/><circle cx="1145.65" cy="1146.36" r="3.95"/><circle cx="1153.4" cy="1126.3" r="3.95"/><circle cx="1161.15" cy="1110.1" r="3.95"/><circle cx="1168.9" cy="1096.99" r="3.95"/><circle cx="1176.65" cy="1088.5" r="3.95"/><circle cx="1184.4" cy="1080.79" r="3.95"/><circle cx="1192.15" cy="1076.16" r="3.95"/><circle cx="1199.9" cy="1071.53" r="3.95"/><circle cx="1207.65" cy="1068.44" r="3.95"/><circle cx="1215.4" cy="1055.33" r="3.95"/><circle cx="1223.15" cy="1064.59" r="3.95"/><circle cx="1230.9" cy="1067.67" r="3.95"/><circle cx="1238.65" cy="1061.5" r="3.95"/><circle cx="1246.4" cy="1056.87" r="3.95"/><circle cx="1254.15" cy="1047.61" r="3.95"/><circle cx="1261.9" cy="1039.9" r="3.95"/><circle cx="1269.65" cy="1033.73" r="3.95"/><circle cx="1277.4" cy="1042.99" r="3.95"/><circle cx="1285.15" cy="1044.53" r="3.95"/><circle cx="1292.9" cy="1047.61" r="3.95"/><circle cx="1300.65" cy="1049.93" r="3.95"/><circle cx="1308.4" cy="1047.61" r="3.95"/><circle cx="1316.15" cy="1046.07" r="3.95"/><circle cx="1323.9" cy="1042.99" r="3.95"/><circle cx="1331.65" cy="1039.13" r="3.95"/><circle cx="1339.4" cy="1036.81" r="3.95"/><circle cx="1347.15" cy="1034.5" r="3.95"/><circle cx="1354.9" cy="1032.96" r="3.95"/><circle cx="1362.65" cy="1031.41" r="3.95"/><circle cx="1370.4" cy="1029.87" r="3.95"/><circle cx="1378.15" cy="1029.1" r="3.95"/><circle cx="1385.9" cy="1027.56" r="3.95"/><circle cx="1393.65" cy="1026.79" r="3.95"/><circle cx="1401.4" cy="1025.24" r="3.95"/><circle cx="1409.15" cy="1023.7" r="3.95"/><circle cx="1416.9" cy="1022.93" r="3.95"/><circle cx="1424.65" cy="1022.16" r="3.95"/><circle cx="1432.4" cy="1021.39" r="3.95"/><circle cx="1440.15" cy="1020.61" r="3.95"/><circle cx="1447.9" cy="1019.84" r="3.95"/><circle cx="1455.65" cy="1019.07" r="3.95"/><circle cx="1463.4" cy="1018.3" r="3.95"/><circle cx="1471.15" cy="1017.53" r="3.95"/><circle cx="1478.9" cy="1015.99" r="3.95"/><circle cx="1486.65" cy="1014.44" r="3.95"/><circle cx="1494.4" cy="1013.67" r="3.95"/><circle cx="1502.15" cy="1012.13" r="3.95"/><circle cx="1509.9" cy="1009.81" r="3.95"/></g>
<text x="1118.4" y="1237.3" font-size="23.5" text-anchor="end" fill="#000">0.0</text>
<text x="1118.4" y="1198.73" font-size="23.5" text-anchor="end" fill="#000">0.5</text>
<text x="1118.4" y="1160.16" font-size="23.5" text-anchor="end" fill="#000">1.0</text>
<text x="1118.4" y="1121.59" font-size="23.5" text-anchor="end" fill="#000">1.5</text>
<text x="1118.4" y="1083.01" font-size="23.5" text-anchor="end" fill="#000">2.0</text>
<text x="1118.4" y="1044.44" font-size="23.5" text-anchor="end" fill="#000">2.5</text>
<text x="1118.4" y="1005.87" font-size="23.5" text-anchor="end" fill="#000">3.0</text>
<text x="1118.4" y="967.3" font-size="23.5" text-anchor="end" fill="#000">3.5</text>
<path d="M1125.9,1228.9 H1137.9 M1125.9,1190.33 H1137.9 M1125.9,1151.76 H1137.9 M1125.9,1113.19 H1137.9 M1125.9,1074.61 H1137.9 M1125.9,1036.04 H1137.9 M1125.9,997.47 H1137.9 M1125.9,958.9 H1137.9 M1137.9,1228.9 V1241.1 M1199.9,1228.9 V1241.1 M1261.9,1228.9 V1241.1 M1323.9,1228.9 V1241.1 M1385.9,1228.9 V1241.1 M1447.9,1228.9 V1241.1 M1509.9,1228.9 V1241.1" stroke="#000000" stroke-width="3.8" fill="none"/>
<circle cx="1212.4" cy="932.1" r="5.8" fill="#a5aaaa" stroke="#535b5b" stroke-width="1.5"/>
<text x="1248.4" y="937.8" font-size="21.6" text-anchor="start" fill="#000">WT</text>
<circle cx="1315.9" cy="932.1" r="5.8" fill="#5fb586" stroke="#535b5b" stroke-width="1.5"/>
<text x="1351.4" y="937.8" font-size="21.6" text-anchor="start" fill="#000">0 ng/mL aTc</text>
<line x1="1628.7" y1="960.9" x2="1628.7" y2="1228.9" stroke="#b4b9bd" stroke-width="3.6" stroke-dasharray="11,4.6"/>
<line x1="1584.2" y1="992.07" x2="1972.8" y2="992.07" stroke="#231f20" stroke-width="3.2" stroke-dasharray="11,11.3"/>
<rect x="1582.2" y="958.9" width="404.4" height="270" fill="none" stroke="#000000" stroke-width="3.8"/>
<g fill="#a5aaaa" stroke="#535b5b" stroke-width="1.5"><path d="M1620.95,1112.41 V1121.67 M1616.75,1112.41 H1625.15 M1616.75,1121.67 H1625.15" stroke="#535b5b" stroke-width="1.6" fill="none"/><path d="M1628.7,1105.86 V1115.89 M1624.5,1105.86 H1632.9 M1624.5,1115.89 H1632.9" stroke="#535b5b" stroke-width="1.6" fill="none"/><path d="M1636.45,1100.07 V1110.87 M1632.25,1100.07 H1640.65 M1632.25,1110.87 H1640.65" stroke="#535b5b" stroke-width="1.6" fill="none"/><path d="M1845.7,1143.27 V1147.9 M1841.5,1143.27 H1849.9 M1841.5,1147.9 H1849.9" stroke="#535b5b" stroke-width="1.6" fill="none"/><path d="M1853.45,1140.96 V1148.67 M1849.25,1140.96 H1857.65 M1849.25,1148.67 H1857.65" stroke="#535b5b" stroke-width="1.6" fill="none"/><path d="M1861.2,1135.56 V1146.36 M1857,1135.56 H1865.4 M1857,1146.36 H1865.4" stroke="#535b5b" stroke-width="1.6" fill="none"/><path d="M1868.95,1128.61 V1142.5 M1864.75,1128.61 H1873.15 M1864.75,1142.5 H1873.15" stroke="#535b5b" stroke-width="1.6" fill="none"/><path d="M1876.7,1121.67 V1138.64 M1872.5,1121.67 H1880.9 M1872.5,1138.64 H1880.9" stroke="#535b5b" stroke-width="1.6" fill="none"/><path d="M1884.45,1113.19 V1133.24 M1880.25,1113.19 H1888.65 M1880.25,1133.24 H1888.65" stroke="#535b5b" stroke-width="1.6" fill="none"/><path d="M1892.2,1104.7 V1126.3 M1888,1104.7 H1896.4 M1888,1126.3 H1896.4" stroke="#535b5b" stroke-width="1.6" fill="none"/><path d="M1899.95,1096.99 V1115.5 M1895.75,1096.99 H1904.15 M1895.75,1115.5 H1904.15" stroke="#535b5b" stroke-width="1.6" fill="none"/><path d="M1907.7,1089.27 V1106.24 M1903.5,1089.27 H1911.9 M1903.5,1106.24 H1911.9" stroke="#535b5b" stroke-width="1.6" fill="none"/><path d="M1915.45,1083.1 V1098.53 M1911.25,1083.1 H1919.65 M1911.25,1098.53 H1919.65" stroke="#535b5b" stroke-width="1.6" fill="none"/><path d="M1923.2,1076.16 V1091.59 M1919,1076.16 H1927.4 M1919,1091.59 H1927.4" stroke="#535b5b" stroke-width="1.6" fill="none"/><path d="M1930.95,1069.99 V1085.41 M1926.75,1069.99 H1935.15 M1926.75,1085.41 H1935.15" stroke="#535b5b" stroke-width="1.6" fill="none"/><path d="M1938.7,1064.97 V1079.63 M1934.5,1064.97 H1942.9 M1934.5,1079.63 H1942.9" stroke="#535b5b" stroke-width="1.6" fill="none"/><path d="M1946.45,1061.5 V1075.39 M1942.25,1061.5 H1950.65 M1942.25,1075.39 H1950.65" stroke="#535b5b" stroke-width="1.6" fill="none"/><path d="M1954.2,1057.87 V1071.3 M1950,1057.87 H1958.4 M1950,1071.3 H1958.4" stroke="#535b5b" stroke-width="1.6" fill="none"/><circle cx="1582.2" cy="1173.36" r="3.95"/><circle cx="1589.95" cy="1160.24" r="3.95"/><circle cx="1597.7" cy="1144.04" r="3.95"/><circle cx="1605.45" cy="1137.1" r="3.95"/><circle cx="1613.2" cy="1124.76" r="3.95"/><circle cx="1620.95" cy="1117.04" r="3.95"/><circle cx="1628.7" cy="1110.87" r="3.95"/><circle cx="1636.45" cy="1105.47" r="3.95"/><circle cx="1644.2" cy="1109.33" r="3.95"/><circle cx="1651.95" cy="1110.87" r="3.95"/><circle cx="1659.7" cy="1109.33" r="3.95"/><circle cx="1667.45" cy="1107.79" r="3.95"/><circle cx="1675.2" cy="1107.79" r="3.95"/><circle cx="1682.95" cy="1107.01" r="3.95"/><circle cx="1690.7" cy="1107.01" r="3.95"/><circle cx="1698.45" cy="1107.79" r="3.95"/><circle cx="1706.2" cy="1108.56" r="3.95"/><circle cx="1713.95" cy="1109.33" r="3.95"/><circle cx="1721.7" cy="1113.19" r="3.95"/><circle cx="1729.45" cy="1117.04" r="3.95"/><circle cx="1737.2" cy="1120.13" r="3.95"/><circle cx="1744.95" cy="1124.76" r="3.95"/><circle cx="1752.7" cy="1127.84" r="3.95"/><circle cx="1760.45" cy="1130.93" r="3.95"/><circle cx="1768.2" cy="1133.24" r="3.95"/><circle cx="1775.95" cy="1135.56" r="3.95"/><circle cx="1783.7" cy="1137.87" r="3.95"/><circle cx="1791.45" cy="1140.96" r="3.95"/><circle cx="1799.2" cy="1141.73" r="3.95"/><circle cx="1806.95" cy="1144.04" r="3.95"/><circle cx="1814.7" cy="1144.81" r="3.95"/><circle cx="1822.45" cy="1146.36" r="3.95"/><circle cx="1830.2" cy="1147.9" r="3.95"/><circle cx="1837.95" cy="1147.13" r="3.95"/><circle cx="1845.7" cy="1145.59" r="3.95"/><circle cx="1853.45" cy="1144.81" r="3.95"/><circle cx="1861.2" cy="1140.96" r="3.95"/><circle cx="1868.95" cy="1135.56" r="3.95"/><circle cx="1876.7" cy="1130.16" r="3.95"/><circle cx="1884.45" cy="1123.21" r="3.95"/><circle cx="1892.2" cy="1115.5" r="3.95"/><circle cx="1899.95" cy="1106.24" r="3.95"/><circle cx="1907.7" cy="1097.76" r="3.95"/><circle cx="1915.45" cy="1090.81" r="3.95"/><circle cx="1923.2" cy="1083.87" r="3.95"/><circle cx="1930.95" cy="1077.7" r="3.95"/><circle cx="1938.7" cy="1072.3" r="3.95"/><circle cx="1946.45" cy="1068.44" r="3.95"/><circle cx="1954.2" cy="1064.59" r="3.95"/></g>
<g fill="#8fc96b" stroke="#535b5b" stroke-width="1.5"><path d="M1597.7,1124.76 V1129.39 M1593.5,1124.76 H1601.9 M1593.5,1129.39 H1601.9" stroke="#8fc96b" stroke-width="1.6" fill="none"/><path d="M1605.45,1107.01 V1113.19 M1601.25,1107.01 H1609.65 M1601.25,1113.19 H1609.65" stroke="#8fc96b" stroke-width="1.6" fill="none"/><path d="M1620.95,1086.19 V1090.81 M1616.75,1086.19 H1625.15 M1616.75,1090.81 H1625.15" stroke="#8fc96b" stroke-width="1.6" fill="none"/><path d="M1675.2,1063.04 V1070.76 M1671,1063.04 H1679.4 M1671,1070.76 H1679.4" stroke="#8fc96b" stroke-width="1.6" fill="none"/><path d="M1682.95,1054.56 V1062.27 M1678.75,1054.56 H1687.15 M1678.75,1062.27 H1687.15" stroke="#8fc96b" stroke-width="1.6" fill="none"/><path d="M1690.7,1049.93 V1062.27 M1686.5,1049.93 H1694.9 M1686.5,1062.27 H1694.9" stroke="#8fc96b" stroke-width="1.6" fill="none"/><path d="M1698.45,1051.47 V1062.27 M1694.25,1051.47 H1702.65 M1694.25,1062.27 H1702.65" stroke="#8fc96b" stroke-width="1.6" fill="none"/><path d="M1706.2,1048.39 V1063.81 M1702,1048.39 H1710.4 M1702,1063.81 H1710.4" stroke="#8fc96b" stroke-width="1.6" fill="none"/><path d="M1713.95,1056.87 V1064.59 M1709.75,1056.87 H1718.15 M1709.75,1064.59 H1718.15" stroke="#8fc96b" stroke-width="1.6" fill="none"/><path d="M1752.7,1049.93 V1054.56 M1748.5,1049.93 H1756.9 M1748.5,1054.56 H1756.9" stroke="#8fc96b" stroke-width="1.6" fill="none"/><path d="M1760.45,1046.07 V1052.24 M1756.25,1046.07 H1764.65 M1756.25,1052.24 H1764.65" stroke="#8fc96b" stroke-width="1.6" fill="none"/><path d="M1768.2,1042.21 V1048.39 M1764,1042.21 H1772.4 M1764,1048.39 H1772.4" stroke="#8fc96b" stroke-width="1.6" fill="none"/><circle cx="1582.2" cy="1171.04" r="3.95"/><circle cx="1589.95" cy="1147.9" r="3.95"/><circle cx="1597.7" cy="1127.07" r="3.95"/><circle cx="1605.45" cy="1110.1" r="3.95"/><circle cx="1613.2" cy="1097.76" r="3.95"/><circle cx="1620.95" cy="1088.5" r="3.95"/><circle cx="1628.7" cy="1080.79" r="3.95"/><circle cx="1636.45" cy="1074.61" r="3.95"/><circle cx="1644.2" cy="1071.53" r="3.95"/><circle cx="1651.95" cy="1068.44" r="3.95"/><circle cx="1659.7" cy="1056.87" r="3.95"/><circle cx="1667.45" cy="1064.59" r="3.95"/><circle cx="1675.2" cy="1066.9" r="3.95"/><circle cx="1682.95" cy="1058.41" r="3.95"/><circle cx="1690.7" cy="1056.1" r="3.95"/><circle cx="1698.45" cy="1056.87" r="3.95"/><circle cx="1706.2" cy="1056.1" r="3.95"/><circle cx="1713.95" cy="1060.73" r="3.95"/><circle cx="1721.7" cy="1062.27" r="3.95"/><circle cx="1729.45" cy="1060.73" r="3.95"/><circle cx="1737.2" cy="1058.41" r="3.95"/><circle cx="1744.95" cy="1056.1" r="3.95"/><circle cx="1752.7" cy="1052.24" r="3.95"/><circle cx="1760.45" cy="1049.16" r="3.95"/><circle cx="1768.2" cy="1045.3" r="3.95"/><circle cx="1775.95" cy="1042.99" r="3.95"/><circle cx="1783.7" cy="1040.67" r="3.95"/><circle cx="1791.45" cy="1038.36" r="3.95"/><circle cx="1799.2" cy="1036.81" r="3.95"/><circle cx="1806.95" cy="1035.27" r="3.95"/><circle cx="1814.7" cy="1032.96" r="3.95"/><circle cx="1822.45" cy="1031.41" r="3.95"/><circle cx="1830.2" cy="1029.87" r="3.95"/><circle cx="1837.95" cy="1029.1" r="3.95"/><circle cx="1845.7" cy="1027.56" r="3.95"/><circle cx="1853.45" cy="1026.79" r="3.95"/><circle cx="1861.2" cy="1026.01" r="3.95"/><circle cx="1868.95" cy="1025.24" r="3.95"/><circle cx="1876.7" cy="1024.47" r="3.95"/><circle cx="1884.45" cy="1024.47" r="3.95"/><circle cx="1892.2" cy="1024.47" r="3.95"/><circle cx="1899.95" cy="1023.7" r="3.95"/><circle cx="1907.7" cy="1023.7" r="3.95"/><circle cx="1915.45" cy="1022.93" r="3.95"/><circle cx="1923.2" cy="1022.93" r="3.95"/><circle cx="1930.95" cy="1022.16" r="3.95"/><circle cx="1938.7" cy="1022.16" r="3.95"/><circle cx="1946.45" cy="1021.39" r="3.95"/><circle cx="1954.2" cy="1021.39" r="3.95"/></g>
<path d="M1570.2,1228.9 H1582.2 M1570.2,1190.33 H1582.2 M1570.2,1151.76 H1582.2 M1570.2,1113.19 H1582.2 M1570.2,1074.61 H1582.2 M1570.2,1036.04 H1582.2 M1570.2,997.47 H1582.2 M1570.2,958.9 H1582.2 M1582.2,1228.9 V1241.1 M1644.2,1228.9 V1241.1 M1706.2,1228.9 V1241.1 M1768.2,1228.9 V1241.1 M1830.2,1228.9 V1241.1 M1892.2,1228.9 V1241.1 M1954.2,1228.9 V1241.1" stroke="#000000" stroke-width="3.8" fill="none"/>
<circle cx="1656.7" cy="932.1" r="5.8" fill="#a5aaaa" stroke="#535b5b" stroke-width="1.5"/>
<text x="1692.7" y="937.8" font-size="21.6" text-anchor="start" fill="#000">WT</text>
<circle cx="1760.2" cy="932.1" r="5.8" fill="#8fc96b" stroke="#535b5b" stroke-width="1.5"/>
<text x="1795.7" y="937.8" font-size="21.6" text-anchor="start" fill="#000">50 ng/mL aTc</text>
<line x1="1184.4" y1="1305.6" x2="1184.4" y2="1573.6" stroke="#b4b9bd" stroke-width="3.6" stroke-dasharray="11,4.6"/>
<line x1="1139.9" y1="1338.31" x2="1528.5" y2="1338.31" stroke="#231f20" stroke-width="3.2" stroke-dasharray="11,11.3"/>
<rect x="1137.9" y="1303.6" width="407.5" height="270" fill="none" stroke="#000000" stroke-width="3.8"/>
<g fill="#a5aaaa" stroke="#535b5b" stroke-width="1.5"><path d="M1176.65,1457.11 V1466.37 M1172.45,1457.11 H1180.85 M1172.45,1466.37 H1180.85" stroke="#535b5b" stroke-width="1.6" fill="none"/><path d="M1184.4,1450.56 V1460.59 M1180.2,1450.56 H1188.6 M1180.2,1460.59 H1188.6" stroke="#535b5b" stroke-width="1.6" fill="none"/><path d="M1192.15,1444.77 V1455.57 M1187.95,1444.77 H1196.35 M1187.95,1455.57 H1196.35" stroke="#535b5b" stroke-width="1.6" fill="none"/><path d="M1401.4,1487.97 V1492.6 M1397.2,1487.97 H1405.6 M1397.2,1492.6 H1405.6" stroke="#535b5b" stroke-width="1.6" fill="none"/><path d="M1409.15,1485.66 V1493.37 M1404.95,1485.66 H1413.35 M1404.95,1493.37 H1413.35" stroke="#535b5b" stroke-width="1.6" fill="none"/><path d="M1416.9,1480.26 V1491.06 M1412.7,1480.26 H1421.1 M1412.7,1491.06 H1421.1" stroke="#535b5b" stroke-width="1.6" fill="none"/><path d="M1424.65,1473.31 V1487.2 M1420.45,1473.31 H1428.85 M1420.45,1487.2 H1428.85" stroke="#535b5b" stroke-width="1.6" fill="none"/><path d="M1432.4,1466.37 V1483.34 M1428.2,1466.37 H1436.6 M1428.2,1483.34 H1436.6" stroke="#535b5b" stroke-width="1.6" fill="none"/><path d="M1440.15,1457.89 V1477.94 M1435.95,1457.89 H1444.35 M1435.95,1477.94 H1444.35" stroke="#535b5b" stroke-width="1.6" fill="none"/><path d="M1447.9,1449.4 V1471 M1443.7,1449.4 H1452.1 M1443.7,1471 H1452.1" stroke="#535b5b" stroke-width="1.6" fill="none"/><path d="M1455.65,1441.69 V1460.2 M1451.45,1441.69 H1459.85 M1451.45,1460.2 H1459.85" stroke="#535b5b" stroke-width="1.6" fill="none"/><path d="M1463.4,1433.97 V1450.94 M1459.2,1433.97 H1467.6 M1459.2,1450.94 H1467.6" stroke="#535b5b" stroke-width="1.6" fill="none"/><path d="M1471.15,1427.8 V1443.23 M1466.95,1427.8 H1475.35 M1466.95,1443.23 H1475.35" stroke="#535b5b" stroke-width="1.6" fill="none"/><path d="M1478.9,1420.86 V1436.29 M1474.7,1420.86 H1483.1 M1474.7,1436.29 H1483.1" stroke="#535b5b" stroke-width="1.6" fill="none"/><path d="M1486.65,1414.69 V1430.11 M1482.45,1414.69 H1490.85 M1482.45,1430.11 H1490.85" stroke="#535b5b" stroke-width="1.6" fill="none"/><path d="M1494.4,1409.67 V1424.33 M1490.2,1409.67 H1498.6 M1490.2,1424.33 H1498.6" stroke="#535b5b" stroke-width="1.6" fill="none"/><path d="M1502.15,1406.2 V1420.09 M1497.95,1406.2 H1506.35 M1497.95,1420.09 H1506.35" stroke="#535b5b" stroke-width="1.6" fill="none"/><path d="M1509.9,1402.57 V1416 M1505.7,1402.57 H1514.1 M1505.7,1416 H1514.1" stroke="#535b5b" stroke-width="1.6" fill="none"/><circle cx="1137.9" cy="1518.06" r="3.95"/><circle cx="1145.65" cy="1504.94" r="3.95"/><circle cx="1153.4" cy="1488.74" r="3.95"/><circle cx="1161.15" cy="1481.8" r="3.95"/><circle cx="1168.9" cy="1469.46" r="3.95"/><circle cx="1176.65" cy="1461.74" r="3.95"/><circle cx="1184.4" cy="1455.57" r="3.95"/><circle cx="1192.15" cy="1450.17" r="3.95"/><circle cx="1199.9" cy="1454.03" r="3.95"/><circle cx="1207.65" cy="1455.57" r="3.95"/><circle cx="1215.4" cy="1454.03" r="3.95"/><circle cx="1223.15" cy="1452.49" r="3.95"/><circle cx="1230.9" cy="1452.49" r="3.95"/><circle cx="1238.65" cy="1451.71" r="3.95"/><circle cx="1246.4" cy="1451.71" r="3.95"/><circle cx="1254.15" cy="1452.49" r="3.95"/><circle cx="1261.9" cy="1453.26" r="3.95"/><circle cx="1269.65" cy="1454.03" r="3.95"/><circle cx="1277.4" cy="1457.89" r="3.95"/><circle cx="1285.15" cy="1461.74" r="3.95"/><circle cx="1292.9" cy="1464.83" r="3.95"/><circle cx="1300.65" cy="1469.46" r="3.95"/><circle cx="1308.4" cy="1472.54" r="3.95"/><circle cx="1316.15" cy="1475.63" r="3.95"/><circle cx="1323.9" cy="1477.94" r="3.95"/><circle cx="1331.65" cy="1480.26" r="3.95"/><circle cx="1339.4" cy="1482.57" r="3.95"/><circle cx="1347.15" cy="1485.66" r="3.95"/><circle cx="1354.9" cy="1486.43" r="3.95"/><circle cx="1362.65" cy="1488.74" r="3.95"/><circle cx="1370.4" cy="1489.51" r="3.95"/><circle cx="1378.15" cy="1491.06" r="3.95"/><circle cx="1385.9" cy="1492.6" r="3.95"/><circle cx="1393.65" cy="1491.83" r="3.95"/><circle cx="1401.4" cy="1490.29" r="3.95"/><circle cx="1409.15" cy="1489.51" r="3.95"/><circle cx="1416.9" cy="1485.66" r="3.95"/><circle cx="1424.65" cy="1480.26" r="3.95"/><circle cx="1432.4" cy="1474.86" r="3.95"/><circle cx="1440.15" cy="1467.91" r="3.95"/><circle cx="1447.9" cy="1460.2" r="3.95"/><circle cx="1455.65" cy="1450.94" r="3.95"/><circle cx="1463.4" cy="1442.46" r="3.95"/><circle cx="1471.15" cy="1435.51" r="3.95"/><circle cx="1478.9" cy="1428.57" r="3.95"/><circle cx="1486.65" cy="1422.4" r="3.95"/><circle cx="1494.4" cy="1417" r="3.95"/><circle cx="1502.15" cy="1413.14" r="3.95"/><circle cx="1509.9" cy="1409.29" r="3.95"/></g>
<g fill="#e8c86c" stroke="#535b5b" stroke-width="1.5"><path d="M1223.15,1410.06 V1420.86 M1218.95,1410.06 H1227.35 M1218.95,1420.86 H1227.35" stroke="#e8c86c" stroke-width="1.6" fill="none"/><path d="M1230.9,1409.29 V1413.91 M1226.7,1409.29 H1235.1 M1226.7,1413.91 H1235.1" stroke="#e8c86c" stroke-width="1.6" fill="none"/><path d="M1238.65,1405.43 V1413.14 M1234.45,1405.43 H1242.85 M1234.45,1413.14 H1242.85" stroke="#e8c86c" stroke-width="1.6" fill="none"/><path d="M1254.15,1402.34 V1408.51 M1249.95,1402.34 H1258.35 M1249.95,1408.51 H1258.35" stroke="#e8c86c" stroke-width="1.6" fill="none"/><path d="M1261.9,1399.26 V1405.43 M1257.7,1399.26 H1266.1 M1257.7,1405.43 H1266.1" stroke="#e8c86c" stroke-width="1.6" fill="none"/><path d="M1269.65,1398.49 V1404.66 M1265.45,1398.49 H1273.85 M1265.45,1404.66 H1273.85" stroke="#e8c86c" stroke-width="1.6" fill="none"/><path d="M1354.9,1379.97 V1384.6 M1350.7,1379.97 H1359.1 M1350.7,1384.6 H1359.1" stroke="#e8c86c" stroke-width="1.6" fill="none"/><circle cx="1137.9" cy="1515.74" r="3.95"/><circle cx="1145.65" cy="1492.6" r="3.95"/><circle cx="1153.4" cy="1471" r="3.95"/><circle cx="1161.15" cy="1454.03" r="3.95"/><circle cx="1168.9" cy="1440.91" r="3.95"/><circle cx="1176.65" cy="1430.11" r="3.95"/><circle cx="1184.4" cy="1422.4" r="3.95"/><circle cx="1192.15" cy="1417.77" r="3.95"/><circle cx="1199.9" cy="1413.91" r="3.95"/><circle cx="1207.65" cy="1411.6" r="3.95"/><circle cx="1215.4" cy="1401.57" r="3.95"/><circle cx="1223.15" cy="1415.46" r="3.95"/><circle cx="1230.9" cy="1411.6" r="3.95"/><circle cx="1238.65" cy="1409.29" r="3.95"/><circle cx="1246.4" cy="1403.11" r="3.95"/><circle cx="1254.15" cy="1405.43" r="3.95"/><circle cx="1261.9" cy="1402.34" r="3.95"/><circle cx="1269.65" cy="1401.57" r="3.95"/><circle cx="1277.4" cy="1403.11" r="3.95"/><circle cx="1285.15" cy="1400.03" r="3.95"/><circle cx="1292.9" cy="1398.49" r="3.95"/><circle cx="1300.65" cy="1396.94" r="3.95"/><circle cx="1308.4" cy="1393.09" r="3.95"/><circle cx="1316.15" cy="1391.54" r="3.95"/><circle cx="1323.9" cy="1388.46" r="3.95"/><circle cx="1331.65" cy="1386.91" r="3.95"/><circle cx="1339.4" cy="1385.37" r="3.95"/><circle cx="1347.15" cy="1383.06" r="3.95"/><circle cx="1354.9" cy="1382.29" r="3.95"/><circle cx="1362.65" cy="1383.83" r="3.95"/><circle cx="1370.4" cy="1383.06" r="3.95"/><circle cx="1378.15" cy="1383.06" r="3.95"/><circle cx="1385.9" cy="1383.06" r="3.95"/><circle cx="1393.65" cy="1383.83" r="3.95"/><circle cx="1401.4" cy="1383.83" r="3.95"/><circle cx="1409.15" cy="1384.6" r="3.95"/><circle cx="1416.9" cy="1384.6" r="3.95"/><circle cx="1424.65" cy="1384.6" r="3.95"/><circle cx="1432.4" cy="1384.6" r="3.95"/><circle cx="1440.15" cy="1384.6" r="3.95"/><circle cx="1447.9" cy="1384.6" r="3.95"/><circle cx="1455.65" cy="1383.83" r="3.95"/><circle cx="1463.4" cy="1383.83" r="3.95"/><circle cx="1471.15" cy="1383.83" r="3.95"/><circle cx="1478.9" cy="1383.06" r="3.95"/><circle cx="1486.65" cy="1383.06" r="3.95"/><circle cx="1494.4" cy="1383.06" r="3.95"/><circle cx="1502.15" cy="1382.29" r="3.95"/><circle cx="1509.9" cy="1382.29" r="3.95"/></g>
<text x="1118.4" y="1582" font-size="23.5" text-anchor="end" fill="#000">0.0</text>
<text x="1118.4" y="1543.43" font-size="23.5" text-anchor="end" fill="#000">0.5</text>
<text x="1118.4" y="1504.86" font-size="23.5" text-anchor="end" fill="#000">1.0</text>
<text x="1118.4" y="1466.29" font-size="23.5" text-anchor="end" fill="#000">1.5</text>
<text x="1118.4" y="1427.71" font-size="23.5" text-anchor="end" fill="#000">2.0</text>
<text x="1118.4" y="1389.14" font-size="23.5" text-anchor="end" fill="#000">2.5</text>
<text x="1118.4" y="1350.57" font-size="23.5" text-anchor="end" fill="#000">3.0</text>
<text x="1118.4" y="1312" font-size="23.5" text-anchor="end" fill="#000">3.5</text>
<path d="M1125.9,1573.6 H1137.9 M1125.9,1535.03 H1137.9 M1125.9,1496.46 H1137.9 M1125.9,1457.89 H1137.9 M1125.9,1419.31 H1137.9 M1125.9,1380.74 H1137.9 M1125.9,1342.17 H1137.9 M1125.9,1303.6 H1137.9 M1137.9,1573.6 V1585.8 M1199.9,1573.6 V1585.8 M1261.9,1573.6 V1585.8 M1323.9,1573.6 V1585.8 M1385.9,1573.6 V1585.8 M1447.9,1573.6 V1585.8 M1509.9,1573.6 V1585.8" stroke="#000000" stroke-width="3.8" fill="none"/>
<circle cx="1212.4" cy="1281.2" r="5.8" fill="#a5aaaa" stroke="#535b5b" stroke-width="1.5"/>
<text x="1248.4" y="1286.9" font-size="21.6" text-anchor="start" fill="#000">WT</text>
<circle cx="1315.9" cy="1281.2" r="5.8" fill="#e8c86c" stroke="#535b5b" stroke-width="1.5"/>
<text x="1351.4" y="1286.9" font-size="21.6" text-anchor="start" fill="#000">500 ng/mL aTc</text>
<text x="1136.3" y="1614" font-size="23.5" text-anchor="middle" fill="#000">0</text>
<text x="1198.3" y="1614" font-size="23.5" text-anchor="middle" fill="#000">4</text>
<text x="1260.3" y="1614" font-size="23.5" text-anchor="middle" fill="#000">8</text>
<text x="1322.3" y="1614" font-size="23.5" text-anchor="middle" fill="#000">12</text>
<text x="1384.3" y="1614" font-size="23.5" text-anchor="middle" fill="#000">16</text>
<text x="1446.3" y="1614" font-size="23.5" text-anchor="middle" fill="#000">20</text>
<text x="1508.3" y="1614" font-size="23.5" text-anchor="middle" fill="#000">24</text>
<line x1="1628.7" y1="1305.6" x2="1628.7" y2="1573.6" stroke="#b4b9bd" stroke-width="3.6" stroke-dasharray="11,4.6"/>
<line x1="1584.2" y1="1338.31" x2="1972.8" y2="1338.31" stroke="#231f20" stroke-width="3.2" stroke-dasharray="11,11.3"/>
<rect x="1582.2" y="1303.6" width="404.4" height="270" fill="none" stroke="#000000" stroke-width="3.8"/>
<g fill="#a5aaaa" stroke="#535b5b" stroke-width="1.5"><path d="M1620.95,1457.11 V1466.37 M1616.75,1457.11 H1625.15 M1616.75,1466.37 H1625.15" stroke="#535b5b" stroke-width="1.6" fill="none"/><path d="M1628.7,1450.56 V1460.59 M1624.5,1450.56 H1632.9 M1624.5,1460.59 H1632.9" stroke="#535b5b" stroke-width="1.6" fill="none"/><path d="M1636.45,1444.77 V1455.57 M1632.25,1444.77 H1640.65 M1632.25,1455.57 H1640.65" stroke="#535b5b" stroke-width="1.6" fill="none"/><path d="M1845.7,1487.97 V1492.6 M1841.5,1487.97 H1849.9 M1841.5,1492.6 H1849.9" stroke="#535b5b" stroke-width="1.6" fill="none"/><path d="M1853.45,1485.66 V1493.37 M1849.25,1485.66 H1857.65 M1849.25,1493.37 H1857.65" stroke="#535b5b" stroke-width="1.6" fill="none"/><path d="M1861.2,1480.26 V1491.06 M1857,1480.26 H1865.4 M1857,1491.06 H1865.4" stroke="#535b5b" stroke-width="1.6" fill="none"/><path d="M1868.95,1473.31 V1487.2 M1864.75,1473.31 H1873.15 M1864.75,1487.2 H1873.15" stroke="#535b5b" stroke-width="1.6" fill="none"/><path d="M1876.7,1466.37 V1483.34 M1872.5,1466.37 H1880.9 M1872.5,1483.34 H1880.9" stroke="#535b5b" stroke-width="1.6" fill="none"/><path d="M1884.45,1457.89 V1477.94 M1880.25,1457.89 H1888.65 M1880.25,1477.94 H1888.65" stroke="#535b5b" stroke-width="1.6" fill="none"/><path d="M1892.2,1449.4 V1471 M1888,1449.4 H1896.4 M1888,1471 H1896.4" stroke="#535b5b" stroke-width="1.6" fill="none"/><path d="M1899.95,1441.69 V1460.2 M1895.75,1441.69 H1904.15 M1895.75,1460.2 H1904.15" stroke="#535b5b" stroke-width="1.6" fill="none"/><path d="M1907.7,1433.97 V1450.94 M1903.5,1433.97 H1911.9 M1903.5,1450.94 H1911.9" stroke="#535b5b" stroke-width="1.6" fill="none"/><path d="M1915.45,1427.8 V1443.23 M1911.25,1427.8 H1919.65 M1911.25,1443.23 H1919.65" stroke="#535b5b" stroke-width="1.6" fill="none"/><path d="M1923.2,1420.86 V1436.29 M1919,1420.86 H1927.4 M1919,1436.29 H1927.4" stroke="#535b5b" stroke-width="1.6" fill="none"/><path d="M1930.95,1414.69 V1430.11 M1926.75,1414.69 H1935.15 M1926.75,1430.11 H1935.15" stroke="#535b5b" stroke-width="1.6" fill="none"/><path d="M1938.7,1409.67 V1424.33 M1934.5,1409.67 H1942.9 M1934.5,1424.33 H1942.9" stroke="#535b5b" stroke-width="1.6" fill="none"/><path d="M1946.45,1406.2 V1420.09 M1942.25,1406.2 H1950.65 M1942.25,1420.09 H1950.65" stroke="#535b5b" stroke-width="1.6" fill="none"/><path d="M1954.2,1402.57 V1416 M1950,1402.57 H1958.4 M1950,1416 H1958.4" stroke="#535b5b" stroke-width="1.6" fill="none"/><circle cx="1582.2" cy="1518.06" r="3.95"/><circle cx="1589.95" cy="1504.94" r="3.95"/><circle cx="1597.7" cy="1488.74" r="3.95"/><circle cx="1605.45" cy="1481.8" r="3.95"/><circle cx="1613.2" cy="1469.46" r="3.95"/><circle cx="1620.95" cy="1461.74" r="3.95"/><circle cx="1628.7" cy="1455.57" r="3.95"/><circle cx="1636.45" cy="1450.17" r="3.95"/><circle cx="1644.2" cy="1454.03" r="3.95"/><circle cx="1651.95" cy="1455.57" r="3.95"/><circle cx="1659.7" cy="1454.03" r="3.95"/><circle cx="1667.45" cy="1452.49" r="3.95"/><circle cx="1675.2" cy="1452.49" r="3.95"/><circle cx="1682.95" cy="1451.71" r="3.95"/><circle cx="1690.7" cy="1451.71" r="3.95"/><circle cx="1698.45" cy="1452.49" r="3.95"/><circle cx="1706.2" cy="1453.26" r="3.95"/><circle cx="1713.95" cy="1454.03" r="3.95"/><circle cx="1721.7" cy="1457.89" r="3.95"/><circle cx="1729.45" cy="1461.74" r="3.95"/><circle cx="1737.2" cy="1464.83" r="3.95"/><circle cx="1744.95" cy="1469.46" r="3.95"/><circle cx="1752.7" cy="1472.54" r="3.95"/><circle cx="1760.45" cy="1475.63" r="3.95"/><circle cx="1768.2" cy="1477.94" r="3.95"/><circle cx="1775.95" cy="1480.26" r="3.95"/><circle cx="1783.7" cy="1482.57" r="3.95"/><circle cx="1791.45" cy="1485.66" r="3.95"/><circle cx="1799.2" cy="1486.43" r="3.95"/><circle cx="1806.95" cy="1488.74" r="3.95"/><circle cx="1814.7" cy="1489.51" r="3.95"/><circle cx="1822.45" cy="1491.06" r="3.95"/><circle cx="1830.2" cy="1492.6" r="3.95"/><circle cx="1837.95" cy="1491.83" r="3.95"/><circle cx="1845.7" cy="1490.29" r="3.95"/><circle cx="1853.45" cy="1489.51" r="3.95"/><circle cx="1861.2" cy="1485.66" r="3.95"/><circle cx="1868.95" cy="1480.26" r="3.95"/><circle cx="1876.7" cy="1474.86" r="3.95"/><circle cx="1884.45" cy="1467.91" r="3.95"/><circle cx="1892.2" cy="1460.2" r="3.95"/><circle cx="1899.95" cy="1450.94" r="3.95"/><circle cx="1907.7" cy="1442.46" r="3.95"/><circle cx="1915.45" cy="1435.51" r="3.95"/><circle cx="1923.2" cy="1428.57" r="3.95"/><circle cx="1930.95" cy="1422.4" r="3.95"/><circle cx="1938.7" cy="1417" r="3.95"/><circle cx="1946.45" cy="1413.14" r="3.95"/><circle cx="1954.2" cy="1409.29" r="3.95"/></g>
<g fill="#d6d490" stroke="#535b5b" stroke-width="1.5"><path d="M1597.7,1466.37 V1474.09 M1593.5,1466.37 H1601.9 M1593.5,1474.09 H1601.9" stroke="#d6d490" stroke-width="1.6" fill="none"/><path d="M1605.45,1449.4 V1458.66 M1601.25,1449.4 H1609.65 M1601.25,1458.66 H1609.65" stroke="#d6d490" stroke-width="1.6" fill="none"/><path d="M1613.2,1437.83 V1445.54 M1609,1437.83 H1617.4 M1609,1445.54 H1617.4" stroke="#d6d490" stroke-width="1.6" fill="none"/><path d="M1620.95,1427.8 V1433.97 M1616.75,1427.8 H1625.15 M1616.75,1433.97 H1625.15" stroke="#d6d490" stroke-width="1.6" fill="none"/><path d="M1667.45,1420.86 V1428.57 M1663.25,1420.86 H1671.65 M1663.25,1428.57 H1671.65" stroke="#d6d490" stroke-width="1.6" fill="none"/><path d="M1675.2,1409.29 V1424.71 M1671,1409.29 H1679.4 M1671,1424.71 H1679.4" stroke="#d6d490" stroke-width="1.6" fill="none"/><path d="M1706.2,1400.03 V1404.66 M1702,1400.03 H1710.4 M1702,1404.66 H1710.4" stroke="#d6d490" stroke-width="1.6" fill="none"/><path d="M1721.7,1400.03 V1404.66 M1717.5,1400.03 H1725.9 M1717.5,1404.66 H1725.9" stroke="#d6d490" stroke-width="1.6" fill="none"/><circle cx="1582.2" cy="1517.29" r="3.95"/><circle cx="1589.95" cy="1492.6" r="3.95"/><circle cx="1597.7" cy="1470.23" r="3.95"/><circle cx="1605.45" cy="1454.03" r="3.95"/><circle cx="1613.2" cy="1441.69" r="3.95"/><circle cx="1620.95" cy="1430.89" r="3.95"/><circle cx="1628.7" cy="1423.17" r="3.95"/><circle cx="1636.45" cy="1417.77" r="3.95"/><circle cx="1644.2" cy="1414.69" r="3.95"/><circle cx="1651.95" cy="1411.6" r="3.95"/><circle cx="1659.7" cy="1403.11" r="3.95"/><circle cx="1667.45" cy="1424.71" r="3.95"/><circle cx="1675.2" cy="1417" r="3.95"/><circle cx="1682.95" cy="1408.51" r="3.95"/><circle cx="1690.7" cy="1404.66" r="3.95"/><circle cx="1698.45" cy="1403.89" r="3.95"/><circle cx="1706.2" cy="1402.34" r="3.95"/><circle cx="1713.95" cy="1402.34" r="3.95"/><circle cx="1721.7" cy="1402.34" r="3.95"/><circle cx="1729.45" cy="1400.03" r="3.95"/><circle cx="1737.2" cy="1397.71" r="3.95"/><circle cx="1744.95" cy="1395.4" r="3.95"/><circle cx="1752.7" cy="1393.09" r="3.95"/><circle cx="1760.45" cy="1389.23" r="3.95"/><circle cx="1768.2" cy="1387.69" r="3.95"/><circle cx="1775.95" cy="1384.6" r="3.95"/><circle cx="1783.7" cy="1383.83" r="3.95"/><circle cx="1791.45" cy="1382.29" r="3.95"/><circle cx="1799.2" cy="1382.29" r="3.95"/><circle cx="1806.95" cy="1382.29" r="3.95"/><circle cx="1814.7" cy="1382.29" r="3.95"/><circle cx="1822.45" cy="1381.51" r="3.95"/><circle cx="1830.2" cy="1383.06" r="3.95"/><circle cx="1837.95" cy="1383.83" r="3.95"/><circle cx="1845.7" cy="1385.37" r="3.95"/><circle cx="1853.45" cy="1386.91" r="3.95"/><circle cx="1861.2" cy="1387.69" r="3.95"/><circle cx="1868.95" cy="1387.69" r="3.95"/><circle cx="1876.7" cy="1387.69" r="3.95"/><circle cx="1884.45" cy="1387.69" r="3.95"/><circle cx="1892.2" cy="1387.69" r="3.95"/><circle cx="1899.95" cy="1387.69" r="3.95"/><circle cx="1907.7" cy="1386.91" r="3.95"/><circle cx="1915.45" cy="1386.91" r="3.95"/><circle cx="1923.2" cy="1386.14" r="3.95"/><circle cx="1930.95" cy="1386.14" r="3.95"/><circle cx="1938.7" cy="1386.14" r="3.95"/><circle cx="1946.45" cy="1385.37" r="3.95"/><circle cx="1954.2" cy="1385.37" r="3.95"/></g>
<path d="M1570.2,1573.6 H1582.2 M1570.2,1535.03 H1582.2 M1570.2,1496.46 H1582.2 M1570.2,1457.89 H1582.2 M1570.2,1419.31 H1582.2 M1570.2,1380.74 H1582.2 M1570.2,1342.17 H1582.2 M1570.2,1303.6 H1582.2 M1582.2,1573.6 V1585.8 M1644.2,1573.6 V1585.8 M1706.2,1573.6 V1585.8 M1768.2,1573.6 V1585.8 M1830.2,1573.6 V1585.8 M1892.2,1573.6 V1585.8 M1954.2,1573.6 V1585.8" stroke="#000000" stroke-width="3.8" fill="none"/>
<circle cx="1656.7" cy="1281.2" r="5.8" fill="#a5aaaa" stroke="#535b5b" stroke-width="1.5"/>
<text x="1692.7" y="1286.9" font-size="21.6" text-anchor="start" fill="#000">WT</text>
<circle cx="1760.2" cy="1281.2" r="5.8" fill="#d6d490" stroke="#535b5b" stroke-width="1.5"/>
<text x="1795.7" y="1286.9" font-size="21.6" text-anchor="start" fill="#000">1000 ng/mL aTc</text>
<text x="1580.6" y="1614" font-size="23.5" text-anchor="middle" fill="#000">0</text>
<text x="1642.6" y="1614" font-size="23.5" text-anchor="middle" fill="#000">4</text>
<text x="1704.6" y="1614" font-size="23.5" text-anchor="middle" fill="#000">8</text>
<text x="1766.6" y="1614" font-size="23.5" text-anchor="middle" fill="#000">12</text>
<text x="1828.6" y="1614" font-size="23.5" text-anchor="middle" fill="#000">16</text>
<text x="1890.6" y="1614" font-size="23.5" text-anchor="middle" fill="#000">20</text>
<text x="1952.6" y="1614" font-size="23.5" text-anchor="middle" fill="#000">24</text>
<text x="538.7" y="1657.6" font-size="28.3" text-anchor="middle" fill="#000">Time after induction (h)</text>
<text transform="translate(47.2,1254.9) rotate(-90)" font-size="28.5" text-anchor="middle" fill="#000">Measure OD<tspan font-size="16.2" dy="8.8">600</tspan><tspan dy="-8.8"> (AU)</tspan></text>
<text x="1558.2" y="1657.6" font-size="28.3" text-anchor="middle" fill="#000">Time after induction (h)</text>
<text transform="translate(1066.7,1254.9) rotate(-90)" font-size="28.5" text-anchor="middle" fill="#000">Measure OD<tspan font-size="16.2" dy="8.8">600</tspan><tspan dy="-8.8"> (AU)</tspan></text>
<path d="M152.5,1858.9 V2246.5 M137,2246.5 H537 M137,2246.5 H152.5 M137,2150.07 H152.5 M137,2053.65 H152.5 M137,1957.22 H152.5 M137,1860.8 H152.5 M152.5,2246.5 V2262.7 M214.13,2246.5 V2262.7 M275.77,2246.5 V2262.7 M337.4,2246.5 V2262.7 M399.03,2246.5 V2262.7 M460.67,2246.5 V2262.7 M522.3,2246.5 V2262.7" stroke="#000" stroke-width="3.8" fill="none"/>
<path d="M144,2217.47 H152.5 M144,2200.49 H152.5 M144,2188.45 H152.5 M144,2179.1 H152.5 M144,2171.47 H152.5 M144,2165.01 H152.5 M144,2159.42 H152.5 M144,2154.49 H152.5 M144,2121.05 H152.5 M144,2104.07 H152.5 M144,2092.02 H152.5 M144,2082.68 H152.5 M144,2075.04 H152.5 M144,2068.59 H152.5 M144,2062.99 H152.5 M144,2058.06 H152.5 M144,2024.62 H152.5 M144,2007.64 H152.5 M144,1995.6 H152.5 M144,1986.25 H152.5 M144,1978.62 H152.5 M144,1972.16 H152.5 M144,1966.57 H152.5 M144,1961.64 H152.5 M144,1928.2 H152.5 M144,1911.22 H152.5 M144,1899.17 H152.5 M144,1889.83 H152.5 M144,1882.19 H152.5 M144,1875.74 H152.5 M144,1870.14 H152.5 M144,1865.21 H152.5" stroke="#000" stroke-width="3.1" fill="none"/>
<polyline points="152.5,1978.44 214.13,2065.22 275.77,2116.33 337.4,2132.72 522.3,2173.22" fill="none" stroke="#e8959b" stroke-width="3.4" stroke-linejoin="round"/>
<path d="M275.77,2110.54 V2122.11 M268.77,2110.54 H282.77 M268.77,2122.11 H282.77" stroke="#e8959b" stroke-width="3" fill="none"/>
<path d="M522.3,2163.57 V2182.86 M515.3,2163.57 H529.3 M515.3,2182.86 H529.3" stroke="#e8959b" stroke-width="3" fill="none"/>
<circle cx="152.5" cy="1978.44" r="5.6" fill="#e8959b" stroke="#000" stroke-width="2.8"/>
<circle cx="214.13" cy="2065.22" r="5.6" fill="#e8959b" stroke="#000" stroke-width="2.8"/>
<circle cx="275.77" cy="2116.33" r="5.6" fill="#e8959b" stroke="#000" stroke-width="2.8"/>
<circle cx="337.4" cy="2132.72" r="5.6" fill="#e8959b" stroke="#000" stroke-width="2.8"/>
<circle cx="522.3" cy="2173.22" r="5.6" fill="#e8959b" stroke="#000" stroke-width="2.8"/>
<polyline points="152.5,2003.51 214.13,1925.4 275.77,1914.8 337.4,1914.8 522.3,1959.15" fill="none" stroke="#a3a9a9" stroke-width="3.4" stroke-linejoin="round"/>
<path d="M152.5,1998.69 V2008.33 M145.5,1998.69 H159.5 M145.5,2008.33 H159.5" stroke="#a3a9a9" stroke-width="3" fill="none"/>
<path d="M214.13,1922.51 V1928.3 M207.13,1922.51 H221.13 M207.13,1928.3 H221.13" stroke="#a3a9a9" stroke-width="3" fill="none"/>
<path d="M275.77,1909.01 V1920.58 M268.77,1909.01 H282.77 M268.77,1920.58 H282.77" stroke="#a3a9a9" stroke-width="3" fill="none"/>
<path d="M337.4,1910.94 V1918.65 M330.4,1910.94 H344.4 M330.4,1918.65 H344.4" stroke="#a3a9a9" stroke-width="3" fill="none"/>
<path d="M522.3,1952.4 V1965.9 M515.3,1952.4 H529.3 M515.3,1965.9 H529.3" stroke="#a3a9a9" stroke-width="3" fill="none"/>
<circle cx="152.5" cy="2003.51" r="5.6" fill="#a3a9a9" stroke="#000" stroke-width="2.8"/>
<circle cx="214.13" cy="1925.4" r="5.6" fill="#a3a9a9" stroke="#000" stroke-width="2.8"/>
<circle cx="275.77" cy="1914.8" r="5.6" fill="#a3a9a9" stroke="#000" stroke-width="2.8"/>
<circle cx="337.4" cy="1914.8" r="5.6" fill="#a3a9a9" stroke="#000" stroke-width="2.8"/>
<circle cx="522.3" cy="1959.15" r="5.6" fill="#a3a9a9" stroke="#000" stroke-width="2.8"/>
<polyline points="152.5,2007.37 214.13,1936.01 275.77,1981.33 337.4,2017.01 522.3,1908.05" fill="none" stroke="#8079b6" stroke-width="3.4" stroke-linejoin="round"/>
<path d="M152.5,2002.54 V2012.19 M145.5,2002.54 H159.5 M145.5,2012.19 H159.5" stroke="#8079b6" stroke-width="3" fill="none"/>
<path d="M214.13,1931.19 V1940.83 M207.13,1931.19 H221.13 M207.13,1940.83 H221.13" stroke="#8079b6" stroke-width="3" fill="none"/>
<path d="M275.77,1956.26 V2006.4 M268.77,1956.26 H282.77 M268.77,2006.4 H282.77" stroke="#8079b6" stroke-width="3" fill="none"/>
<path d="M337.4,1999.65 V2034.36 M330.4,1999.65 H344.4 M330.4,2034.36 H344.4" stroke="#8079b6" stroke-width="3" fill="none"/>
<path d="M522.3,1899.37 V1916.73 M515.3,1899.37 H529.3 M515.3,1916.73 H529.3" stroke="#8079b6" stroke-width="3" fill="none"/>
<circle cx="152.5" cy="2007.37" r="5.6" fill="#8079b6" stroke="#000" stroke-width="2.8"/>
<circle cx="214.13" cy="1936.01" r="5.6" fill="#8079b6" stroke="#000" stroke-width="2.8"/>
<circle cx="275.77" cy="1981.33" r="5.6" fill="#8079b6" stroke="#000" stroke-width="2.8"/>
<circle cx="337.4" cy="2017.01" r="5.6" fill="#8079b6" stroke="#000" stroke-width="2.8"/>
<circle cx="522.3" cy="1908.05" r="5.6" fill="#8079b6" stroke="#000" stroke-width="2.8"/>
<polyline points="152.5,2015.08 214.13,1930.23 275.77,1976.51 337.4,2043.04 522.3,1890.69" fill="none" stroke="#b87aae" stroke-width="3.4" stroke-linejoin="round"/>
<path d="M152.5,2002.54 V2027.62 M145.5,2002.54 H159.5 M145.5,2027.62 H159.5" stroke="#b87aae" stroke-width="3" fill="none"/>
<path d="M214.13,1925.4 V1935.05 M207.13,1925.4 H221.13 M207.13,1935.05 H221.13" stroke="#b87aae" stroke-width="3" fill="none"/>
<path d="M275.77,1946.62 V2006.4 M268.77,1946.62 H282.77 M268.77,2006.4 H282.77" stroke="#b87aae" stroke-width="3" fill="none"/>
<path d="M337.4,2033.4 V2052.69 M330.4,2033.4 H344.4 M330.4,2052.69 H344.4" stroke="#b87aae" stroke-width="3" fill="none"/>
<path d="M522.3,1885.87 V1895.51 M515.3,1885.87 H529.3 M515.3,1895.51 H529.3" stroke="#b87aae" stroke-width="3" fill="none"/>
<circle cx="152.5" cy="2015.08" r="5.6" fill="#b87aae" stroke="#000" stroke-width="2.8"/>
<circle cx="214.13" cy="1930.23" r="5.6" fill="#b87aae" stroke="#000" stroke-width="2.8"/>
<circle cx="275.77" cy="1976.51" r="5.6" fill="#b87aae" stroke="#000" stroke-width="2.8"/>
<circle cx="337.4" cy="2043.04" r="5.6" fill="#b87aae" stroke="#000" stroke-width="2.8"/>
<circle cx="522.3" cy="1890.69" r="5.6" fill="#b87aae" stroke="#000" stroke-width="2.8"/>
<polyline points="152.5,2000.62 214.13,1907.08 275.77,1918.65 337.4,1883.94 522.3,1881.05" fill="none" stroke="#5fa6dc" stroke-width="3.4" stroke-linejoin="round"/>
<path d="M152.5,1995.79 V2005.44 M145.5,1995.79 H159.5 M145.5,2005.44 H159.5" stroke="#5fa6dc" stroke-width="3" fill="none"/>
<path d="M214.13,1902.26 V1911.91 M207.13,1902.26 H221.13 M207.13,1911.91 H221.13" stroke="#5fa6dc" stroke-width="3" fill="none"/>
<path d="M275.77,1903.23 V1934.08 M268.77,1903.23 H282.77 M268.77,1934.08 H282.77" stroke="#5fa6dc" stroke-width="3" fill="none"/>
<path d="M337.4,1877.19 V1890.69 M330.4,1877.19 H344.4 M330.4,1890.69 H344.4" stroke="#5fa6dc" stroke-width="3" fill="none"/>
<path d="M522.3,1878.16 V1883.94 M515.3,1878.16 H529.3 M515.3,1883.94 H529.3" stroke="#5fa6dc" stroke-width="3" fill="none"/>
<circle cx="152.5" cy="2000.62" r="5.6" fill="#5fa6dc" stroke="#000" stroke-width="2.8"/>
<circle cx="214.13" cy="1907.08" r="5.6" fill="#5fa6dc" stroke="#000" stroke-width="2.8"/>
<circle cx="275.77" cy="1918.65" r="5.6" fill="#5fa6dc" stroke="#000" stroke-width="2.8"/>
<circle cx="337.4" cy="1883.94" r="5.6" fill="#5fa6dc" stroke="#000" stroke-width="2.8"/>
<circle cx="522.3" cy="1881.05" r="5.6" fill="#5fa6dc" stroke="#000" stroke-width="2.8"/>
<polyline points="152.5,2004.47 214.13,1906.12 275.77,1920.58 337.4,1933.12 522.3,2074.86" fill="none" stroke="#b0c5df" stroke-width="3.4" stroke-linejoin="round"/>
<path d="M152.5,1999.65 V2009.29 M145.5,1999.65 H159.5 M145.5,2009.29 H159.5" stroke="#b0c5df" stroke-width="3" fill="none"/>
<path d="M214.13,1899.37 V1912.87 M207.13,1899.37 H221.13 M207.13,1912.87 H221.13" stroke="#b0c5df" stroke-width="3" fill="none"/>
<path d="M275.77,1909.01 V1932.15 M268.77,1909.01 H282.77 M268.77,1932.15 H282.77" stroke="#b0c5df" stroke-width="3" fill="none"/>
<path d="M337.4,1924.44 V1941.8 M330.4,1924.44 H344.4 M330.4,1941.8 H344.4" stroke="#b0c5df" stroke-width="3" fill="none"/>
<path d="M522.3,2067.15 V2082.58 M515.3,2067.15 H529.3 M515.3,2082.58 H529.3" stroke="#b0c5df" stroke-width="3" fill="none"/>
<circle cx="152.5" cy="2004.47" r="5.6" fill="#b0c5df" stroke="#000" stroke-width="2.8"/>
<circle cx="214.13" cy="1906.12" r="5.6" fill="#b0c5df" stroke="#000" stroke-width="2.8"/>
<circle cx="275.77" cy="1920.58" r="5.6" fill="#b0c5df" stroke="#000" stroke-width="2.8"/>
<circle cx="337.4" cy="1933.12" r="5.6" fill="#b0c5df" stroke="#000" stroke-width="2.8"/>
<circle cx="522.3" cy="2074.86" r="5.6" fill="#b0c5df" stroke="#000" stroke-width="2.8"/>
<text x="152.5" y="2291" font-size="24.5" text-anchor="middle" fill="#000">0</text>
<text x="214.13" y="2291" font-size="24.5" text-anchor="middle" fill="#000">4</text>
<text x="275.77" y="2291" font-size="24.5" text-anchor="middle" fill="#000">8</text>
<text x="337.4" y="2291" font-size="24.5" text-anchor="middle" fill="#000">12</text>
<text x="399.03" y="2291" font-size="24.5" text-anchor="middle" fill="#000">16</text>
<text x="460.67" y="2291" font-size="24.5" text-anchor="middle" fill="#000">20</text>
<text x="522.3" y="2291" font-size="24.5" text-anchor="middle" fill="#000">24</text>
<text x="121.5" y="2258.5" font-size="24.5" text-anchor="end" fill="#000">10<tspan font-size="15.5" dy="-10.5">7</tspan></text>
<text x="121.5" y="2162.07" font-size="24.5" text-anchor="end" fill="#000">10<tspan font-size="15.5" dy="-10.5">8</tspan></text>
<text x="121.5" y="2065.65" font-size="24.5" text-anchor="end" fill="#000">10<tspan font-size="15.5" dy="-10.5">9</tspan></text>
<text x="121.5" y="1969.22" font-size="24.5" text-anchor="end" fill="#000">10<tspan font-size="15.5" dy="-10.5">10</tspan></text>
<text x="121.5" y="1872.8" font-size="24.5" text-anchor="end" fill="#000">10<tspan font-size="15.5" dy="-10.5">11</tspan></text>
<text x="341" y="2326" font-size="25" text-anchor="middle" fill="#000">Time after induction (h)</text>
<text transform="translate(60,2062.8) rotate(-90)" font-size="24.6" text-anchor="middle" fill="#000">Colony-forming unit per mL (CFU/mL)</text>
<line x1="152.5" y1="1758.6" x2="192.5" y2="1758.6" stroke="#e8959b" stroke-width="3.4" stroke-linecap="round"/>
<circle cx="172.5" cy="1758.6" r="5.6" fill="#e8959b" stroke="#000" stroke-width="2.8"/>
<text x="204" y="1764" font-size="19.4" text-anchor="start" fill="#000">WT</text>
<line x1="356.5" y1="1758.6" x2="396.5" y2="1758.6" stroke="#a3a9a9" stroke-width="3.4" stroke-linecap="round"/>
<circle cx="376.5" cy="1758.6" r="5.6" fill="#a3a9a9" stroke="#000" stroke-width="2.8"/>
<text x="408" y="1764" font-size="19.4" text-anchor="start" fill="#000">MBP</text>
<line x1="152.5" y1="1790.8" x2="192.5" y2="1790.8" stroke="#b0c5df" stroke-width="3.4" stroke-linecap="round"/>
<circle cx="172.5" cy="1790.8" r="5.6" fill="#b0c5df" stroke="#000" stroke-width="2.8"/>
<text x="204" y="1796.2" font-size="19.4" text-anchor="start" fill="#000">0 μM IPTG</text>
<line x1="356.5" y1="1790.8" x2="396.5" y2="1790.8" stroke="#5fa6dc" stroke-width="3.4" stroke-linecap="round"/>
<circle cx="376.5" cy="1790.8" r="5.6" fill="#5fa6dc" stroke="#000" stroke-width="2.8"/>
<text x="408" y="1796.2" font-size="19.4" text-anchor="start" fill="#000">20 μM IPTG</text>
<line x1="152.5" y1="1823.2" x2="192.5" y2="1823.2" stroke="#b87aae" stroke-width="3.4" stroke-linecap="round"/>
<circle cx="172.5" cy="1823.2" r="5.6" fill="#b87aae" stroke="#000" stroke-width="2.8"/>
<text x="204" y="1828.6" font-size="19.4" text-anchor="start" fill="#000">200 μM IPTG</text>
<line x1="356.5" y1="1823.2" x2="396.5" y2="1823.2" stroke="#8079b6" stroke-width="3.4" stroke-linecap="round"/>
<circle cx="376.5" cy="1823.2" r="5.6" fill="#8079b6" stroke="#000" stroke-width="2.8"/>
<text x="408" y="1828.6" font-size="19.4" text-anchor="start" fill="#000">400 μM IPTG</text>
<path d="M781.7,1858.9 V2246.5 M766.2,2246.5 H1166.2 M766.2,2246.5 H781.7 M766.2,2150.07 H781.7 M766.2,2053.65 H781.7 M766.2,1957.22 H781.7 M766.2,1860.8 H781.7 M781.7,2246.5 V2262.7 M843.33,2246.5 V2262.7 M904.97,2246.5 V2262.7 M966.6,2246.5 V2262.7 M1028.23,2246.5 V2262.7 M1089.87,2246.5 V2262.7 M1151.5,2246.5 V2262.7" stroke="#000" stroke-width="3.8" fill="none"/>
<path d="M773.2,2217.47 H781.7 M773.2,2200.49 H781.7 M773.2,2188.45 H781.7 M773.2,2179.1 H781.7 M773.2,2171.47 H781.7 M773.2,2165.01 H781.7 M773.2,2159.42 H781.7 M773.2,2154.49 H781.7 M773.2,2121.05 H781.7 M773.2,2104.07 H781.7 M773.2,2092.02 H781.7 M773.2,2082.68 H781.7 M773.2,2075.04 H781.7 M773.2,2068.59 H781.7 M773.2,2062.99 H781.7 M773.2,2058.06 H781.7 M773.2,2024.62 H781.7 M773.2,2007.64 H781.7 M773.2,1995.6 H781.7 M773.2,1986.25 H781.7 M773.2,1978.62 H781.7 M773.2,1972.16 H781.7 M773.2,1966.57 H781.7 M773.2,1961.64 H781.7 M773.2,1928.2 H781.7 M773.2,1911.22 H781.7 M773.2,1899.17 H781.7 M773.2,1889.83 H781.7 M773.2,1882.19 H781.7 M773.2,1875.74 H781.7 M773.2,1870.14 H781.7 M773.2,1865.21 H781.7" stroke="#000" stroke-width="3.1" fill="none"/>
<polyline points="781.7,1978.44 843.33,2065.22 904.97,2116.33 966.6,2132.72 1151.5,2173.22" fill="none" stroke="#e8959b" stroke-width="3.4" stroke-linejoin="round"/>
<path d="M904.97,2110.54 V2122.11 M897.97,2110.54 H911.97 M897.97,2122.11 H911.97" stroke="#e8959b" stroke-width="3" fill="none"/>
<path d="M1151.5,2163.57 V2182.86 M1144.5,2163.57 H1158.5 M1144.5,2182.86 H1158.5" stroke="#e8959b" stroke-width="3" fill="none"/>
<circle cx="781.7" cy="1978.44" r="5.6" fill="#e8959b" stroke="#000" stroke-width="2.8"/>
<circle cx="843.33" cy="2065.22" r="5.6" fill="#e8959b" stroke="#000" stroke-width="2.8"/>
<circle cx="904.97" cy="2116.33" r="5.6" fill="#e8959b" stroke="#000" stroke-width="2.8"/>
<circle cx="966.6" cy="2132.72" r="5.6" fill="#e8959b" stroke="#000" stroke-width="2.8"/>
<circle cx="1151.5" cy="2173.22" r="5.6" fill="#e8959b" stroke="#000" stroke-width="2.8"/>
<polyline points="781.7,2003.51 843.33,1925.4 904.97,1914.8 966.6,1914.8 1151.5,1959.15" fill="none" stroke="#a3a9a9" stroke-width="3.4" stroke-linejoin="round"/>
<path d="M781.7,1998.69 V2008.33 M774.7,1998.69 H788.7 M774.7,2008.33 H788.7" stroke="#a3a9a9" stroke-width="3" fill="none"/>
<path d="M843.33,1922.51 V1928.3 M836.33,1922.51 H850.33 M836.33,1928.3 H850.33" stroke="#a3a9a9" stroke-width="3" fill="none"/>
<path d="M904.97,1909.01 V1920.58 M897.97,1909.01 H911.97 M897.97,1920.58 H911.97" stroke="#a3a9a9" stroke-width="3" fill="none"/>
<path d="M966.6,1910.94 V1918.65 M959.6,1910.94 H973.6 M959.6,1918.65 H973.6" stroke="#a3a9a9" stroke-width="3" fill="none"/>
<path d="M1151.5,1952.4 V1965.9 M1144.5,1952.4 H1158.5 M1144.5,1965.9 H1158.5" stroke="#a3a9a9" stroke-width="3" fill="none"/>
<circle cx="781.7" cy="2003.51" r="5.6" fill="#a3a9a9" stroke="#000" stroke-width="2.8"/>
<circle cx="843.33" cy="1925.4" r="5.6" fill="#a3a9a9" stroke="#000" stroke-width="2.8"/>
<circle cx="904.97" cy="1914.8" r="5.6" fill="#a3a9a9" stroke="#000" stroke-width="2.8"/>
<circle cx="966.6" cy="1914.8" r="5.6" fill="#a3a9a9" stroke="#000" stroke-width="2.8"/>
<circle cx="1151.5" cy="1959.15" r="5.6" fill="#a3a9a9" stroke="#000" stroke-width="2.8"/>
<polyline points="781.7,2008.33 843.33,1941.8 904.97,1972.65 966.6,1949.51 1151.5,1896.48" fill="none" stroke="#a5cc7d" stroke-width="3.4" stroke-linejoin="round"/>
<path d="M781.7,2003.51 V2013.15 M774.7,2003.51 H788.7 M774.7,2013.15 H788.7" stroke="#a5cc7d" stroke-width="3" fill="none"/>
<path d="M843.33,1932.15 V1951.44 M836.33,1932.15 H850.33 M836.33,1951.44 H850.33" stroke="#a5cc7d" stroke-width="3" fill="none"/>
<path d="M904.97,1963.01 V1982.3 M897.97,1963.01 H911.97 M897.97,1982.3 H911.97" stroke="#a5cc7d" stroke-width="3" fill="none"/>
<path d="M966.6,1945.65 V1953.37 M959.6,1945.65 H973.6 M959.6,1953.37 H973.6" stroke="#a5cc7d" stroke-width="3" fill="none"/>
<path d="M1151.5,1891.66 V1901.3 M1144.5,1891.66 H1158.5 M1144.5,1901.3 H1158.5" stroke="#a5cc7d" stroke-width="3" fill="none"/>
<circle cx="781.7" cy="2008.33" r="5.6" fill="#a5cc7d" stroke="#000" stroke-width="2.8"/>
<circle cx="843.33" cy="1941.8" r="5.6" fill="#a5cc7d" stroke="#000" stroke-width="2.8"/>
<circle cx="904.97" cy="1972.65" r="5.6" fill="#a5cc7d" stroke="#000" stroke-width="2.8"/>
<circle cx="966.6" cy="1949.51" r="5.6" fill="#a5cc7d" stroke="#000" stroke-width="2.8"/>
<circle cx="1151.5" cy="1896.48" r="5.6" fill="#a5cc7d" stroke="#000" stroke-width="2.8"/>
<polyline points="781.7,2005.44 843.33,1928.3 904.97,1982.3 966.6,1952.4 1151.5,1915.76" fill="none" stroke="#d0d89c" stroke-width="3.4" stroke-linejoin="round"/>
<path d="M781.7,1993.87 V2017.01 M774.7,1993.87 H788.7 M774.7,2017.01 H788.7" stroke="#d0d89c" stroke-width="3" fill="none"/>
<path d="M843.33,1923.48 V1933.12 M836.33,1923.48 H850.33 M836.33,1933.12 H850.33" stroke="#d0d89c" stroke-width="3" fill="none"/>
<path d="M904.97,1945.65 V2018.94 M897.97,1945.65 H911.97 M897.97,2018.94 H911.97" stroke="#d0d89c" stroke-width="3" fill="none"/>
<path d="M966.6,1947.58 V1957.22 M959.6,1947.58 H973.6 M959.6,1957.22 H973.6" stroke="#d0d89c" stroke-width="3" fill="none"/>
<path d="M1151.5,1910.94 V1920.58 M1144.5,1910.94 H1158.5 M1144.5,1920.58 H1158.5" stroke="#d0d89c" stroke-width="3" fill="none"/>
<circle cx="781.7" cy="2005.44" r="5.6" fill="#d0d89c" stroke="#000" stroke-width="2.8"/>
<circle cx="843.33" cy="1928.3" r="5.6" fill="#d0d89c" stroke="#000" stroke-width="2.8"/>
<circle cx="904.97" cy="1982.3" r="5.6" fill="#d0d89c" stroke="#000" stroke-width="2.8"/>
<circle cx="966.6" cy="1952.4" r="5.6" fill="#d0d89c" stroke="#000" stroke-width="2.8"/>
<circle cx="1151.5" cy="1915.76" r="5.6" fill="#d0d89c" stroke="#000" stroke-width="2.8"/>
<polyline points="781.7,2000.62 843.33,1917.69 904.97,1974.58 966.6,1951.44 1151.5,1913.83" fill="none" stroke="#e2cc78" stroke-width="3.4" stroke-linejoin="round"/>
<path d="M781.7,1995.79 V2005.44 M774.7,1995.79 H788.7 M774.7,2005.44 H788.7" stroke="#e2cc78" stroke-width="3" fill="none"/>
<path d="M843.33,1913.83 V1921.55 M836.33,1913.83 H850.33 M836.33,1921.55 H850.33" stroke="#e2cc78" stroke-width="3" fill="none"/>
<path d="M904.97,1931.19 V2017.97 M897.97,1931.19 H911.97 M897.97,2017.97 H911.97" stroke="#e2cc78" stroke-width="3" fill="none"/>
<path d="M966.6,1945.65 V1957.22 M959.6,1945.65 H973.6 M959.6,1957.22 H973.6" stroke="#e2cc78" stroke-width="3" fill="none"/>
<path d="M1151.5,1904.19 V1923.48 M1144.5,1904.19 H1158.5 M1144.5,1923.48 H1158.5" stroke="#e2cc78" stroke-width="3" fill="none"/>
<circle cx="781.7" cy="2000.62" r="5.6" fill="#e2cc78" stroke="#000" stroke-width="2.8"/>
<circle cx="843.33" cy="1917.69" r="5.6" fill="#e2cc78" stroke="#000" stroke-width="2.8"/>
<circle cx="904.97" cy="1974.58" r="5.6" fill="#e2cc78" stroke="#000" stroke-width="2.8"/>
<circle cx="966.6" cy="1951.44" r="5.6" fill="#e2cc78" stroke="#000" stroke-width="2.8"/>
<circle cx="1151.5" cy="1913.83" r="5.6" fill="#e2cc78" stroke="#000" stroke-width="2.8"/>
<polyline points="781.7,2019.9 843.33,1939.87 904.97,1970.72 966.6,1937.94 1151.5,1909.98" fill="none" stroke="#6fbb91" stroke-width="3.4" stroke-linejoin="round"/>
<path d="M781.7,2015.08 V2024.72 M774.7,2015.08 H788.7 M774.7,2024.72 H788.7" stroke="#6fbb91" stroke-width="3" fill="none"/>
<path d="M843.33,1934.08 V1945.65 M836.33,1934.08 H850.33 M836.33,1945.65 H850.33" stroke="#6fbb91" stroke-width="3" fill="none"/>
<path d="M904.97,1966.87 V1974.58 M897.97,1966.87 H911.97 M897.97,1974.58 H911.97" stroke="#6fbb91" stroke-width="3" fill="none"/>
<path d="M966.6,1933.12 V1942.76 M959.6,1933.12 H973.6 M959.6,1942.76 H973.6" stroke="#6fbb91" stroke-width="3" fill="none"/>
<path d="M1151.5,1878.16 V1941.8 M1144.5,1878.16 H1158.5 M1144.5,1941.8 H1158.5" stroke="#6fbb91" stroke-width="3" fill="none"/>
<circle cx="781.7" cy="2019.9" r="5.6" fill="#6fbb91" stroke="#000" stroke-width="2.8"/>
<circle cx="843.33" cy="1939.87" r="5.6" fill="#6fbb91" stroke="#000" stroke-width="2.8"/>
<circle cx="904.97" cy="1970.72" r="5.6" fill="#6fbb91" stroke="#000" stroke-width="2.8"/>
<circle cx="966.6" cy="1937.94" r="5.6" fill="#6fbb91" stroke="#000" stroke-width="2.8"/>
<circle cx="1151.5" cy="1909.98" r="5.6" fill="#6fbb91" stroke="#000" stroke-width="2.8"/>
<text x="781.7" y="2291" font-size="24.5" text-anchor="middle" fill="#000">0</text>
<text x="843.33" y="2291" font-size="24.5" text-anchor="middle" fill="#000">4</text>
<text x="904.97" y="2291" font-size="24.5" text-anchor="middle" fill="#000">8</text>
<text x="966.6" y="2291" font-size="24.5" text-anchor="middle" fill="#000">12</text>
<text x="1028.23" y="2291" font-size="24.5" text-anchor="middle" fill="#000">16</text>
<text x="1089.87" y="2291" font-size="24.5" text-anchor="middle" fill="#000">20</text>
<text x="1151.5" y="2291" font-size="24.5" text-anchor="middle" fill="#000">24</text>
<text x="750.7" y="2258.5" font-size="24.5" text-anchor="end" fill="#000">10<tspan font-size="15.5" dy="-10.5">7</tspan></text>
<text x="750.7" y="2162.07" font-size="24.5" text-anchor="end" fill="#000">10<tspan font-size="15.5" dy="-10.5">8</tspan></text>
<text x="750.7" y="2065.65" font-size="24.5" text-anchor="end" fill="#000">10<tspan font-size="15.5" dy="-10.5">9</tspan></text>
<text x="750.7" y="1969.22" font-size="24.5" text-anchor="end" fill="#000">10<tspan font-size="15.5" dy="-10.5">10</tspan></text>
<text x="750.7" y="1872.8" font-size="24.5" text-anchor="end" fill="#000">10<tspan font-size="15.5" dy="-10.5">11</tspan></text>
<text x="970.2" y="2326" font-size="25" text-anchor="middle" fill="#000">Time after induction (h)</text>
<text transform="translate(689.2,2062.8) rotate(-90)" font-size="24.6" text-anchor="middle" fill="#000">Colony-forming unit per mL (CFU/mL)</text>
<line x1="781.7" y1="1758.6" x2="821.7" y2="1758.6" stroke="#e8959b" stroke-width="3.4" stroke-linecap="round"/>
<circle cx="801.7" cy="1758.6" r="5.6" fill="#e8959b" stroke="#000" stroke-width="2.8"/>
<text x="833.2" y="1764" font-size="19.4" text-anchor="start" fill="#000">WT</text>
<line x1="985.7" y1="1758.6" x2="1025.7" y2="1758.6" stroke="#a3a9a9" stroke-width="3.4" stroke-linecap="round"/>
<circle cx="1005.7" cy="1758.6" r="5.6" fill="#a3a9a9" stroke="#000" stroke-width="2.8"/>
<text x="1037.2" y="1764" font-size="19.4" text-anchor="start" fill="#000">MBP</text>
<line x1="781.7" y1="1790.8" x2="821.7" y2="1790.8" stroke="#6fbb91" stroke-width="3.4" stroke-linecap="round"/>
<circle cx="801.7" cy="1790.8" r="5.6" fill="#6fbb91" stroke="#000" stroke-width="2.8"/>
<text x="833.2" y="1796.2" font-size="19.4" text-anchor="start" fill="#000">0 ng/mL aTc</text>
<line x1="985.7" y1="1790.8" x2="1025.7" y2="1790.8" stroke="#a5cc7d" stroke-width="3.4" stroke-linecap="round"/>
<circle cx="1005.7" cy="1790.8" r="5.6" fill="#a5cc7d" stroke="#000" stroke-width="2.8"/>
<text x="1037.2" y="1796.2" font-size="19.4" text-anchor="start" fill="#000">50 ng/mL aTc</text>
<line x1="781.7" y1="1823.2" x2="821.7" y2="1823.2" stroke="#e2cc78" stroke-width="3.4" stroke-linecap="round"/>
<circle cx="801.7" cy="1823.2" r="5.6" fill="#e2cc78" stroke="#000" stroke-width="2.8"/>
<text x="833.2" y="1828.6" font-size="19.4" text-anchor="start" fill="#000">500 ng/mL aTc</text>
<line x1="985.7" y1="1823.2" x2="1025.7" y2="1823.2" stroke="#d0d89c" stroke-width="3.4" stroke-linecap="round"/>
<circle cx="1005.7" cy="1823.2" r="5.6" fill="#d0d89c" stroke="#000" stroke-width="2.8"/>
<text x="1037.2" y="1828.6" font-size="19.4" text-anchor="start" fill="#000">1000 ng/mL aTc</text>
<rect x="1377.7" y="1893.1" width="58.27" height="58.3" fill="#eeecf1"/>
<text x="1409.24" y="1927.65" font-size="21.8" text-anchor="middle" fill="#000">77.4</text>
<rect x="1437.97" y="1893.1" width="58.27" height="58.3" fill="#e8e4ec"/>
<text x="1469.51" y="1927.65" font-size="21.8" text-anchor="middle" fill="#000">72.4</text>
<rect x="1498.24" y="1893.1" width="58.27" height="58.3" fill="#f6f5f8"/>
<text x="1529.78" y="1927.65" font-size="21.8" text-anchor="middle" fill="#000">83.3</text>
<rect x="1558.51" y="1893.1" width="58.27" height="58.3" fill="#f3f2f6"/>
<text x="1590.05" y="1927.65" font-size="21.8" text-anchor="middle" fill="#000">81.6</text>
<rect x="1618.78" y="1893.1" width="58.27" height="58.3" fill="#f3f2f6"/>
<text x="1650.32" y="1927.65" font-size="21.8" text-anchor="middle" fill="#000">81.6</text>
<rect x="1679.05" y="1893.1" width="58.27" height="58.3" fill="#f5f3f7"/>
<text x="1710.59" y="1927.65" font-size="21.8" text-anchor="middle" fill="#000">82.6</text>
<rect x="1739.32" y="1893.1" width="58.27" height="58.3" fill="#f6f5f8"/>
<text x="1770.86" y="1927.65" font-size="21.8" text-anchor="middle" fill="#000">83.3</text>
<rect x="1799.59" y="1893.1" width="58.27" height="58.3" fill="#f3f2f6"/>
<text x="1831.13" y="1927.65" font-size="21.8" text-anchor="middle" fill="#000">81.6</text>
<rect x="1859.86" y="1893.1" width="58.27" height="58.3" fill="#f6f5f8"/>
<text x="1891.4" y="1927.65" font-size="21.8" text-anchor="middle" fill="#000">83.5</text>
<rect x="1920.13" y="1893.1" width="58.27" height="58.3" fill="#fdfdfe"/>
<text x="1951.67" y="1927.65" font-size="21.8" text-anchor="middle" fill="#000">86.5</text>
<rect x="1377.7" y="1953.4" width="58.27" height="58.3" fill="#dfd9e7"/>
<text x="1409.24" y="1987.95" font-size="21.8" text-anchor="middle" fill="#000">64.9</text>
<rect x="1437.97" y="1953.4" width="58.27" height="58.3" fill="#efedf2"/>
<text x="1469.51" y="1987.95" font-size="21.8" text-anchor="middle" fill="#000">78.2</text>
<rect x="1498.24" y="1953.4" width="58.27" height="58.3" fill="#d9d1e3"/>
<text x="1529.78" y="1987.95" font-size="21.8" text-anchor="middle" fill="#000">58.7</text>
<rect x="1558.51" y="1953.4" width="58.27" height="58.3" fill="#eae7ee"/>
<text x="1590.05" y="1987.95" font-size="21.8" text-anchor="middle" fill="#000">74.4</text>
<rect x="1618.78" y="1953.4" width="58.27" height="58.3" fill="#e6e1eb"/>
<text x="1650.32" y="1987.95" font-size="21.8" text-anchor="middle" fill="#000">70.8</text>
<rect x="1679.05" y="1953.4" width="58.27" height="58.3" fill="#e8e5ed"/>
<text x="1710.59" y="1987.95" font-size="21.8" text-anchor="middle" fill="#000">73.0</text>
<rect x="1739.32" y="1953.4" width="58.27" height="58.3" fill="#ded8e6"/>
<text x="1770.86" y="1987.95" font-size="21.8" text-anchor="middle" fill="#000">64.2</text>
<rect x="1799.59" y="1953.4" width="58.27" height="58.3" fill="#e7e3ec"/>
<text x="1831.13" y="1987.95" font-size="21.8" text-anchor="middle" fill="#000">71.9</text>
<rect x="1859.86" y="1953.4" width="58.27" height="58.3" fill="#ede9f0"/>
<text x="1891.4" y="1987.95" font-size="21.8" text-anchor="middle" fill="#000">76.0</text>
<rect x="1920.13" y="1953.4" width="58.27" height="58.3" fill="#ebe8ef"/>
<text x="1951.67" y="1987.95" font-size="21.8" text-anchor="middle" fill="#000">75.0</text>
<rect x="1377.7" y="2013.7" width="58.27" height="58.3" fill="#c8bcd8"/>
<text x="1409.24" y="2048.25" font-size="21.8" text-anchor="middle" fill="#000">41.4</text>
<rect x="1437.97" y="2013.7" width="58.27" height="58.3" fill="#eae6ee"/>
<text x="1469.51" y="2048.25" font-size="21.8" text-anchor="middle" fill="#000">73.8</text>
<rect x="1498.24" y="2013.7" width="58.27" height="58.3" fill="#cfc5dd"/>
<text x="1529.78" y="2048.25" font-size="21.8" text-anchor="middle" fill="#000">49.8</text>
<rect x="1558.51" y="2013.7" width="58.27" height="58.3" fill="#e7e3ec"/>
<text x="1590.05" y="2048.25" font-size="21.8" text-anchor="middle" fill="#000">72.1</text>
<rect x="1618.78" y="2013.7" width="58.27" height="58.3" fill="#e5e1eb"/>
<text x="1650.32" y="2048.25" font-size="21.8" text-anchor="middle" fill="#000">70.4</text>
<rect x="1679.05" y="2013.7" width="58.27" height="58.3" fill="#d6cde1"/>
<text x="1710.59" y="2048.25" font-size="21.8" text-anchor="middle" fill="#000">56.0</text>
<rect x="1739.32" y="2013.7" width="58.27" height="58.3" fill="#e7e3ec"/>
<text x="1770.86" y="2048.25" font-size="21.8" text-anchor="middle" fill="#000">71.9</text>
<rect x="1799.59" y="2013.7" width="58.27" height="58.3" fill="#edeaf0"/>
<text x="1831.13" y="2048.25" font-size="21.8" text-anchor="middle" fill="#000">76.1</text>
<rect x="1859.86" y="2013.7" width="58.27" height="58.3" fill="#eeebf1"/>
<text x="1891.4" y="2048.25" font-size="21.8" text-anchor="middle" fill="#000">77.0</text>
<rect x="1920.13" y="2013.7" width="58.27" height="58.3" fill="#ebe8ef"/>
<text x="1951.67" y="2048.25" font-size="21.8" text-anchor="middle" fill="#000">75.0</text>
<rect x="1377.7" y="2074" width="58.27" height="58.3" fill="#c4b7d5"/>
<text x="1409.24" y="2108.55" font-size="21.8" text-anchor="middle" fill="#000">37.1</text>
<rect x="1437.97" y="2074" width="58.27" height="58.3" fill="#ebe7ef"/>
<text x="1469.51" y="2108.55" font-size="21.8" text-anchor="middle" fill="#000">74.6</text>
<rect x="1498.24" y="2074" width="58.27" height="58.3" fill="#dbd3e4"/>
<text x="1529.78" y="2108.55" font-size="21.8" text-anchor="middle" fill="#000">60.7</text>
<rect x="1558.51" y="2074" width="58.27" height="58.3" fill="#ede9f0"/>
<text x="1590.05" y="2108.55" font-size="21.8" text-anchor="middle" fill="#000">76.0</text>
<rect x="1618.78" y="2074" width="58.27" height="58.3" fill="#eae7ee"/>
<text x="1650.32" y="2108.55" font-size="21.8" text-anchor="middle" fill="#000">74.3</text>
<rect x="1679.05" y="2074" width="58.27" height="58.3" fill="#f2f0f4"/>
<text x="1710.59" y="2108.55" font-size="21.8" text-anchor="middle" fill="#000">80.0</text>
<rect x="1739.32" y="2074" width="58.27" height="58.3" fill="#e0dae8"/>
<text x="1770.86" y="2108.55" font-size="21.8" text-anchor="middle" fill="#000">65.7</text>
<rect x="1799.59" y="2074" width="58.27" height="58.3" fill="#eeebf1"/>
<text x="1831.13" y="2108.55" font-size="21.8" text-anchor="middle" fill="#000">77.0</text>
<rect x="1859.86" y="2074" width="58.27" height="58.3" fill="#efedf2"/>
<text x="1891.4" y="2108.55" font-size="21.8" text-anchor="middle" fill="#000">78.1</text>
<rect x="1920.13" y="2074" width="58.27" height="58.3" fill="#edeaf1"/>
<text x="1951.67" y="2108.55" font-size="21.8" text-anchor="middle" fill="#000">76.6</text>
<rect x="1377.7" y="2134.3" width="58.27" height="58.3" fill="#b3a4c9"/>
<text x="1409.24" y="2168.85" font-size="21.8" text-anchor="middle" fill="#000">17.6</text>
<rect x="1437.97" y="2134.3" width="58.27" height="58.3" fill="#e3deea"/>
<text x="1469.51" y="2168.85" font-size="21.8" text-anchor="middle" fill="#000">68.7</text>
<rect x="1498.24" y="2134.3" width="58.27" height="58.3" fill="#d9d1e3"/>
<text x="1529.78" y="2168.85" font-size="21.8" text-anchor="middle" fill="#000">59.3</text>
<rect x="1558.51" y="2134.3" width="58.27" height="58.3" fill="#f1eff4"/>
<text x="1590.05" y="2168.85" font-size="21.8" text-anchor="middle" fill="#000">79.9</text>
<rect x="1618.78" y="2134.3" width="58.27" height="58.3" fill="#eeebf1"/>
<text x="1650.32" y="2168.85" font-size="21.8" text-anchor="middle" fill="#000">77.0</text>
<rect x="1679.05" y="2134.3" width="58.27" height="58.3" fill="#ece9f0"/>
<text x="1710.59" y="2168.85" font-size="21.8" text-anchor="middle" fill="#000">75.8</text>
<rect x="1739.32" y="2134.3" width="58.27" height="58.3" fill="#ebe7ef"/>
<text x="1770.86" y="2168.85" font-size="21.8" text-anchor="middle" fill="#000">74.7</text>
<rect x="1799.59" y="2134.3" width="58.27" height="58.3" fill="#ece8ef"/>
<text x="1831.13" y="2168.85" font-size="21.8" text-anchor="middle" fill="#000">75.4</text>
<rect x="1859.86" y="2134.3" width="58.27" height="58.3" fill="#edeaf1"/>
<text x="1891.4" y="2168.85" font-size="21.8" text-anchor="middle" fill="#000">76.6</text>
<rect x="1920.13" y="2134.3" width="58.27" height="58.3" fill="#eeebf1"/>
<text x="1951.67" y="2168.85" font-size="21.8" text-anchor="middle" fill="#000">77.2</text>
<rect x="1376.7" y="1892.1" width="602.7" height="301.5" fill="none" stroke="#000" stroke-width="3.9"/>
<text x="1349.3" y="1930.45" font-size="24" text-anchor="end" fill="#000">0</text>
<text x="1349.3" y="1990.75" font-size="24" text-anchor="end" fill="#000">4</text>
<text x="1349.3" y="2051.05" font-size="24" text-anchor="end" fill="#000">8</text>
<text x="1349.3" y="2111.35" font-size="24" text-anchor="end" fill="#000">12</text>
<text x="1349.3" y="2171.65" font-size="24" text-anchor="end" fill="#000">24</text>
<path d="M1406.84,1892.1 V1881.6 M1467.11,1892.1 V1881.6 M1527.38,1892.1 V1881.6 M1587.64,1892.1 V1881.6 M1647.91,1892.1 V1881.6 M1708.19,1892.1 V1881.6 M1768.46,1892.1 V1881.6 M1828.73,1892.1 V1881.6 M1889,1892.1 V1881.6 M1949.27,1892.1 V1881.6 M1366.2,1922.25 H1376.7 M1366.2,1982.55 H1376.7 M1366.2,2042.85 H1376.7 M1366.2,2103.15 H1376.7 M1366.2,2163.45 H1376.7" stroke="#000" stroke-width="3.6" fill="none"/>
<text transform="translate(1410.63,1870) rotate(-45)" font-size="25" fill="#000">WT</text>
<text transform="translate(1470.9,1870) rotate(-45)" font-size="25" fill="#000">MBP</text>
<text transform="translate(1531.17,1870) rotate(-45)" font-size="25" fill="#000">0</text>
<text transform="translate(1591.44,1870) rotate(-45)" font-size="25" fill="#000">20</text>
<text transform="translate(1651.71,1870) rotate(-45)" font-size="25" fill="#000">200</text>
<text transform="translate(1711.99,1870) rotate(-45)" font-size="25" fill="#000">400</text>
<text transform="translate(1772.26,1870) rotate(-45)" font-size="25" fill="#000">0</text>
<text transform="translate(1832.53,1870) rotate(-45)" font-size="25" fill="#000">50</text>
<text transform="translate(1892.8,1870) rotate(-45)" font-size="25" fill="#000">500</text>
<text transform="translate(1953.07,1870) rotate(-45)" font-size="25" fill="#000">1000</text>
<text x="1618" y="1781.9" font-size="25" text-anchor="middle" fill="#000">[IPTG] (μM)</text>
<text x="1859.6" y="1781.9" font-size="25" text-anchor="middle" fill="#000">[aTc] (ng/mL)</text>
<path d="M1528.5,1794.2 H1708 M1769.4,1794.2 H1949" stroke="#000" stroke-width="4.2" stroke-linecap="round"/>
<text transform="translate(1307.9,2046) rotate(-90)" font-size="25" text-anchor="middle" fill="#000">Time after induction (h)</text>
<defs><linearGradient id="cbg" x1="0" x2="1" y1="0" y2="0"><stop offset="0" stop-color="#c0add7"/><stop offset="0.03" stop-color="#c2afd8"/><stop offset="0.07" stop-color="#c3b1d9"/><stop offset="0.1" stop-color="#c4b3da"/><stop offset="0.13" stop-color="#c6b5db"/><stop offset="0.17" stop-color="#c8b8dc"/><stop offset="0.2" stop-color="#cabade"/><stop offset="0.23" stop-color="#ccbde0"/><stop offset="0.27" stop-color="#cfc0e1"/><stop offset="0.3" stop-color="#d1c2e2"/><stop offset="0.33" stop-color="#d3c5e4"/><stop offset="0.37" stop-color="#d5c8e5"/><stop offset="0.4" stop-color="#d8cbe7"/><stop offset="0.43" stop-color="#dacee8"/><stop offset="0.47" stop-color="#dcd2ea"/><stop offset="0.5" stop-color="#dfd5eb"/><stop offset="0.53" stop-color="#e1d8ec"/><stop offset="0.57" stop-color="#e4dbee"/><stop offset="0.6" stop-color="#e6deef"/><stop offset="0.63" stop-color="#e8e1f0"/><stop offset="0.67" stop-color="#eae4f2"/><stop offset="0.7" stop-color="#ece6f3"/><stop offset="0.73" stop-color="#eee9f4"/><stop offset="0.77" stop-color="#f0ecf5"/><stop offset="0.8" stop-color="#f2eef6"/><stop offset="0.83" stop-color="#f4f1f8"/><stop offset="0.87" stop-color="#f6f4f9"/><stop offset="0.9" stop-color="#f8f7fa"/><stop offset="0.93" stop-color="#fafafc"/><stop offset="0.97" stop-color="#fdfcfe"/><stop offset="1" stop-color="#ffffff"/></linearGradient></defs>
<rect x="1377.6" y="2218.5" width="602" height="35.2" fill="url(#cbg)" stroke="#000" stroke-width="4.1"/>
<text x="1417.73" y="2290.8" font-size="25" text-anchor="middle" fill="#000">20</text>
<text x="1578.27" y="2290.8" font-size="25" text-anchor="middle" fill="#000">40</text>
<text x="1738.8" y="2290.8" font-size="25" text-anchor="middle" fill="#000">60</text>
<text x="1899.33" y="2290.8" font-size="25" text-anchor="middle" fill="#000">80</text>
<path d="M1417.73,2218.5 V2225.5 M1417.73,2253.7 V2245.7 M1578.27,2218.5 V2225.5 M1578.27,2253.7 V2245.7 M1738.8,2218.5 V2225.5 M1738.8,2253.7 V2245.7 M1899.33,2218.5 V2225.5 M1899.33,2253.7 V2245.7" stroke="#000" stroke-width="3.9" fill="none"/>
<text x="1680.5" y="2325.5" font-size="25" text-anchor="middle" fill="#000">Cell Viability (%)</text>
<text x="-1" y="28.6" font-size="40" text-anchor="start" fill="#000" font-weight="bold">a</text>
<text x="1031.5" y="31" font-size="40" text-anchor="start" fill="#000" font-weight="bold">b</text>
<text x="-1.2" y="898.4" font-size="40" text-anchor="start" fill="#000" font-weight="bold">c</text>
<text x="1031" y="898.6" font-size="40" text-anchor="start" fill="#000" font-weight="bold">d</text>
<text x="-1" y="1738.2" font-size="40" text-anchor="start" fill="#000" font-weight="bold">e</text>
<text x="634.5" y="1737.6" font-size="40" text-anchor="start" fill="#000" font-weight="bold">f</text>
<text x="1257" y="1734.8" font-size="40" text-anchor="start" fill="#000" font-weight="bold">g</text>
</svg>
</body></html>
